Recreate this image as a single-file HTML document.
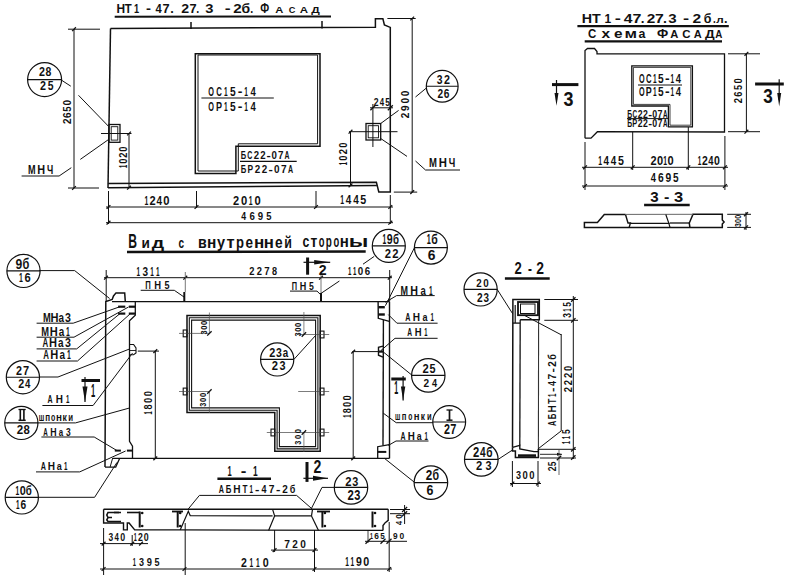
<!DOCTYPE html>
<html><head><meta charset="utf-8"><style>
html,body{margin:0;padding:0;background:#fff;}
svg{display:block;font-family:"Liberation Sans",sans-serif;}
</style></head><body>
<svg width="803" height="580" viewBox="0 0 803 580">
<rect width="803" height="580" fill="#fff"/>
<g font-weight="bold" fill="#111" stroke="#111" stroke-width="0" transform="translate(0,12.7)"><g transform="translate(117.2,0)"><text x="-0.80" y="0.00" font-size="13.08" textLength="8.60" lengthAdjust="spacingAndGlyphs">Н</text></g><g transform="translate(125,0)"><text x="-0.13" y="0.00" font-size="13.08" textLength="6.95" lengthAdjust="spacingAndGlyphs">Т</text></g><g transform="translate(134.7,0)"><text x="-0.58" y="0.00" font-size="13.08" textLength="5.14" lengthAdjust="spacingAndGlyphs">1</text></g><g transform="translate(146.6,0)"><text x="-0.58" y="0.00" font-size="13.08" textLength="4.98" lengthAdjust="spacingAndGlyphs">-</text></g><g transform="translate(155.6,0)"><text x="-0.17" y="0.00" font-size="13.08" textLength="6.23" lengthAdjust="spacingAndGlyphs">4</text></g><g transform="translate(163,0)"><text x="-0.55" y="0.00" font-size="13.08" textLength="7.11" lengthAdjust="spacingAndGlyphs">7</text></g><g transform="translate(171,0)"><text x="-0.87" y="0.00" font-size="13.08" textLength="3.54" lengthAdjust="spacingAndGlyphs">.</text></g><g transform="translate(181.7,0)"><text x="-0.49" y="0.00" font-size="13.08" textLength="7.86" lengthAdjust="spacingAndGlyphs">2</text></g><g transform="translate(190,0)"><text x="-0.55" y="0.00" font-size="13.08" textLength="7.11" lengthAdjust="spacingAndGlyphs">7</text></g><g transform="translate(197,0)"><text x="-0.72" y="0.00" font-size="13.08" textLength="2.95" lengthAdjust="spacingAndGlyphs">.</text></g><g transform="translate(205.7,0)"><text x="-0.34" y="0.00" font-size="13.08" textLength="8.17" lengthAdjust="spacingAndGlyphs">3</text></g><g transform="translate(225.5,0)"><text x="-0.69" y="0.00" font-size="13.08" textLength="5.90" lengthAdjust="spacingAndGlyphs">-</text></g><g transform="translate(233.7,0)"><text x="-0.53" y="0.00" font-size="13.08" textLength="8.43" lengthAdjust="spacingAndGlyphs">2</text></g><g transform="translate(242,0)"><text x="-0.64" y="0.00" font-size="13.08" textLength="8.59" lengthAdjust="spacingAndGlyphs">б</text></g><g transform="translate(251,0)"><text x="-0.72" y="0.00" font-size="13.08" textLength="2.95" lengthAdjust="spacingAndGlyphs">.</text></g></g>
<g font-weight="bold" fill="#111" stroke="#111" stroke-width="0" transform="translate(0,12.7)"><g transform="translate(260.6,0)"><text x="-0.36" y="0.00" font-size="13.81" textLength="8.93" lengthAdjust="spacingAndGlyphs">Ф</text></g></g>
<g font-weight="bold" fill="#111" stroke="#111" stroke-width="0" transform="translate(0,12.7)"><g transform="translate(275.5,0)"><text x="-0.28" y="0.00" font-size="8.14" textLength="8.07" lengthAdjust="spacingAndGlyphs">А</text></g><g transform="translate(289,0)"><text x="-0.38" y="0.00" font-size="8.14" textLength="6.63" lengthAdjust="spacingAndGlyphs">С</text></g><g transform="translate(300,0)"><text x="-0.29" y="0.00" font-size="8.14" textLength="8.29" lengthAdjust="spacingAndGlyphs">А</text></g><g transform="translate(311.4,0)"><text x="-0.11" y="0.00" font-size="8.14" textLength="8.52" lengthAdjust="spacingAndGlyphs">Д</text></g></g>
<line x1="114.7" y1="16.8" x2="331" y2="16.5" stroke="#111" stroke-width="2"/>
<polyline points="110.5,28.6 375.4,27.2 375.4,18.8 382.9,18.8 384.4,24.9 390.3,27.4 390.3,191.9 378.8,191.9 376.4,182.2 108.2,183.4" fill="none" stroke="#111" stroke-width="1.5" stroke-linejoin="miter"/>
<line x1="110.5" y1="28.6" x2="108" y2="188" stroke="#111" stroke-width="1.5"/>
<line x1="108" y1="187.7" x2="376.9" y2="185.4" stroke="#111" stroke-width="1.5"/>
<line x1="191" y1="22" x2="191" y2="29" stroke="#111" stroke-width="1.5"/>
<line x1="322" y1="21" x2="322" y2="28.5" stroke="#111" stroke-width="1.5"/>
<polygon points="195.3,53.8 320,53.8 320,146.2 235.9,146.2 235.9,173.4 195.3,173.4" fill="none" stroke="#111" stroke-width="1.5" stroke-linejoin="miter"/>
<polygon points="198,55 317.6,55 317.6,143.8 238.3,143.8 238.3,171 198,171" fill="none" stroke="#111" stroke-width="1.0" stroke-linejoin="miter"/>
<g font-weight="bold" fill="#111" stroke="#111" stroke-width="0" transform="translate(208.6,95.5)"><text x="-0.30" y="0.00" font-size="12.35" textLength="5.71" lengthAdjust="spacingAndGlyphs">О</text><text x="7.62" y="0.00" font-size="12.35" textLength="5.63" lengthAdjust="spacingAndGlyphs">С</text><text x="15.46" y="0.00" font-size="12.35" textLength="3.66" lengthAdjust="spacingAndGlyphs">1</text><text x="21.45" y="0.00" font-size="12.35" textLength="5.70" lengthAdjust="spacingAndGlyphs">5</text><text x="29.15" y="0.00" font-size="12.35" textLength="4.68" lengthAdjust="spacingAndGlyphs">-</text><text x="35.69" y="0.00" font-size="12.35" textLength="3.66" lengthAdjust="spacingAndGlyphs">1</text><text x="41.86" y="0.00" font-size="12.35" textLength="5.30" lengthAdjust="spacingAndGlyphs">4</text></g>
<line x1="201.4" y1="98" x2="273.8" y2="98" stroke="#111" stroke-width="1.1"/>
<g font-weight="bold" fill="#111" stroke="#111" stroke-width="0" transform="translate(208.6,110.5)"><text x="-0.30" y="0.00" font-size="12.35" textLength="5.71" lengthAdjust="spacingAndGlyphs">О</text><text x="7.33" y="0.00" font-size="12.35" textLength="6.01" lengthAdjust="spacingAndGlyphs">Р</text><text x="15.46" y="0.00" font-size="12.35" textLength="3.66" lengthAdjust="spacingAndGlyphs">1</text><text x="21.45" y="0.00" font-size="12.35" textLength="5.70" lengthAdjust="spacingAndGlyphs">5</text><text x="29.15" y="0.00" font-size="12.35" textLength="4.68" lengthAdjust="spacingAndGlyphs">-</text><text x="35.69" y="0.00" font-size="12.35" textLength="3.66" lengthAdjust="spacingAndGlyphs">1</text><text x="41.86" y="0.00" font-size="12.35" textLength="5.30" lengthAdjust="spacingAndGlyphs">4</text></g>
<g font-weight="bold" fill="#111" stroke="#111" stroke-width="0" transform="translate(241.2,158.7)"><text x="-0.50" y="0.00" font-size="11.19" textLength="5.39" lengthAdjust="spacingAndGlyphs">Б</text><text x="6.13" y="0.00" font-size="11.19" textLength="5.10" lengthAdjust="spacingAndGlyphs">С</text><text x="12.51" y="0.00" font-size="11.19" textLength="5.34" lengthAdjust="spacingAndGlyphs">2</text><text x="18.94" y="0.00" font-size="11.19" textLength="5.34" lengthAdjust="spacingAndGlyphs">2</text><text x="25.20" y="0.00" font-size="11.19" textLength="4.24" lengthAdjust="spacingAndGlyphs">-</text><text x="30.35" y="0.00" font-size="11.19" textLength="5.40" lengthAdjust="spacingAndGlyphs">0</text><text x="36.73" y="0.00" font-size="11.19" textLength="5.48" lengthAdjust="spacingAndGlyphs">7</text><text x="43.41" y="0.00" font-size="11.19" textLength="4.97" lengthAdjust="spacingAndGlyphs">А</text></g>
<line x1="240" y1="161.4" x2="296.7" y2="161.4" stroke="#111" stroke-width="1.1"/>
<g font-weight="bold" fill="#111" stroke="#111" stroke-width="0" transform="translate(241.2,173.4)"><text x="-0.51" y="0.00" font-size="11.48" textLength="5.53" lengthAdjust="spacingAndGlyphs">Б</text><text x="6.37" y="0.00" font-size="11.48" textLength="5.59" lengthAdjust="spacingAndGlyphs">Р</text><text x="13.51" y="0.00" font-size="11.48" textLength="5.48" lengthAdjust="spacingAndGlyphs">2</text><text x="20.44" y="0.00" font-size="11.48" textLength="5.48" lengthAdjust="spacingAndGlyphs">2</text><text x="27.19" y="0.00" font-size="11.48" textLength="4.35" lengthAdjust="spacingAndGlyphs">-</text><text x="32.81" y="0.00" font-size="11.48" textLength="5.54" lengthAdjust="spacingAndGlyphs">0</text><text x="39.70" y="0.00" font-size="11.48" textLength="5.62" lengthAdjust="spacingAndGlyphs">7</text><text x="46.88" y="0.00" font-size="11.48" textLength="5.10" lengthAdjust="spacingAndGlyphs">А</text></g>
<rect x="109" y="124.5" width="11" height="17.80000000000001" fill="none" stroke="#111" stroke-width="1.3"/>
<rect x="111.2" y="126.7" width="6.599999999999994" height="13.399999999999991" fill="none" stroke="#111" stroke-width="0.9"/>
<line x1="101" y1="133.5" x2="131.5" y2="133.5" stroke="#111" stroke-width="1.0"/>
<line x1="129" y1="133.5" x2="129" y2="187.7" stroke="#111" stroke-width="1.0"/>
<line x1="127.1" y1="135.4" x2="130.9" y2="131.6" stroke="#111" stroke-width="1.25"/>
<line x1="127.1" y1="189.6" x2="130.9" y2="185.79999999999998" stroke="#111" stroke-width="1.25"/>
<g font-weight="bold" fill="#111" stroke="#111" stroke-width="0" transform="translate(126.8,167.7) rotate(-90)"><text x="-0.37" y="0.00" font-size="10.90" textLength="3.23" lengthAdjust="spacingAndGlyphs">1</text><text x="3.83" y="0.00" font-size="10.90" textLength="5.26" lengthAdjust="spacingAndGlyphs">0</text><text x="9.88" y="0.00" font-size="10.90" textLength="5.20" lengthAdjust="spacingAndGlyphs">2</text><text x="15.83" y="0.00" font-size="10.90" textLength="5.26" lengthAdjust="spacingAndGlyphs">0</text></g>
<line x1="74" y1="29" x2="74" y2="188" stroke="#111" stroke-width="1.0"/>
<line x1="68" y1="29.2" x2="100" y2="29.2" stroke="#111" stroke-width="1.0"/>
<line x1="68" y1="188" x2="99" y2="188" stroke="#111" stroke-width="1.0"/>
<line x1="72.1" y1="31.099999999999998" x2="75.9" y2="27.3" stroke="#111" stroke-width="1.25"/>
<line x1="72.1" y1="189.9" x2="75.9" y2="186.1" stroke="#111" stroke-width="1.25"/>
<g font-weight="bold" fill="#111" stroke="#111" stroke-width="0" transform="translate(71.4,123.7) rotate(-90)"><text x="-0.35" y="0.00" font-size="11.63" textLength="5.54" lengthAdjust="spacingAndGlyphs">2</text><text x="5.80" y="0.00" font-size="11.63" textLength="5.52" lengthAdjust="spacingAndGlyphs">6</text><text x="12.04" y="0.00" font-size="11.63" textLength="5.37" lengthAdjust="spacingAndGlyphs">5</text><text x="18.10" y="0.00" font-size="11.63" textLength="5.61" lengthAdjust="spacingAndGlyphs">0</text></g>
<circle cx="44.6" cy="79.6" r="17" fill="none" stroke="#111" stroke-width="1.2"/>
<line x1="27.6" y1="79.6" x2="61.6" y2="79.6" stroke="#111" stroke-width="1.1"/>
<g font-weight="bold" fill="#111" stroke="#111" stroke-width="0" transform="translate(39.4,76.1)"><text x="-0.37" y="0.00" font-size="12.50" textLength="5.96" lengthAdjust="spacingAndGlyphs">2</text><text x="6.11" y="0.00" font-size="12.50" textLength="5.81" lengthAdjust="spacingAndGlyphs">8</text></g>
<g font-weight="bold" fill="#111" stroke="#111" stroke-width="0" transform="translate(40.3,90.3)"><text x="-0.37" y="0.00" font-size="12.50" textLength="5.96" lengthAdjust="spacingAndGlyphs">2</text><text x="7.42" y="0.00" font-size="12.50" textLength="5.77" lengthAdjust="spacingAndGlyphs">5</text></g>
<line x1="60" y1="79.2" x2="70.8" y2="86.2" stroke="#111" stroke-width="1.0"/>
<line x1="78.5" y1="95.3" x2="108.5" y2="126.3" stroke="#111" stroke-width="1.0"/>
<line x1="109" y1="139.2" x2="80.3" y2="159.4" stroke="#111" stroke-width="1.0"/>
<line x1="71.3" y1="167.7" x2="59.1" y2="176" stroke="#111" stroke-width="1.0"/>
<line x1="21.6" y1="176" x2="59.1" y2="176" stroke="#111" stroke-width="1.0"/>
<g font-weight="bold" fill="#111" stroke="#111" stroke-width="0" transform="translate(28.6,173.6)"><text x="-0.61" y="0.00" font-size="12.50" textLength="7.58" lengthAdjust="spacingAndGlyphs">М</text><text x="8.75" y="0.00" font-size="12.50" textLength="7.82" lengthAdjust="spacingAndGlyphs">Н</text><text x="18.46" y="0.00" font-size="12.50" textLength="6.23" lengthAdjust="spacingAndGlyphs">Ч</text></g>
<rect x="366" y="123.5" width="14.699999999999989" height="16.5" fill="none" stroke="#111" stroke-width="1.3"/>
<rect x="368.2" y="125.7" width="10.300000000000011" height="12.100000000000009" fill="none" stroke="#111" stroke-width="0.9"/>
<line x1="349" y1="131.7" x2="397.5" y2="131.7" stroke="#111" stroke-width="1.0"/>
<line x1="372.9" y1="104" x2="372.9" y2="147" stroke="#111" stroke-width="1.0"/>
<line x1="390.3" y1="104" x2="390.3" y2="110" stroke="#111" stroke-width="1.0"/>
<line x1="370" y1="107.8" x2="393" y2="107.8" stroke="#111" stroke-width="1.0"/>
<line x1="370.4" y1="110.3" x2="375.4" y2="105.3" stroke="#111" stroke-width="1.25"/>
<line x1="387.8" y1="110.3" x2="392.8" y2="105.3" stroke="#111" stroke-width="1.25"/>
<g font-weight="bold" fill="#111" stroke="#111" stroke-width="0" transform="translate(374,106)"><text x="-0.30" y="0.00" font-size="10.17" textLength="4.85" lengthAdjust="spacingAndGlyphs">2</text><text x="5.63" y="0.00" font-size="10.17" textLength="4.36" lengthAdjust="spacingAndGlyphs">4</text><text x="11.24" y="0.00" font-size="10.17" textLength="4.69" lengthAdjust="spacingAndGlyphs">5</text></g>
<line x1="350.5" y1="131.7" x2="350.5" y2="185.4" stroke="#111" stroke-width="1.0"/>
<line x1="348.6" y1="133.6" x2="352.4" y2="129.79999999999998" stroke="#111" stroke-width="1.25"/>
<line x1="348.6" y1="187.3" x2="352.4" y2="183.5" stroke="#111" stroke-width="1.25"/>
<g font-weight="bold" fill="#111" stroke="#111" stroke-width="0" transform="translate(347.4,165) rotate(-90)"><text x="-0.37" y="0.00" font-size="10.90" textLength="3.23" lengthAdjust="spacingAndGlyphs">1</text><text x="4.26" y="0.00" font-size="10.90" textLength="5.26" lengthAdjust="spacingAndGlyphs">0</text><text x="10.74" y="0.00" font-size="10.90" textLength="5.20" lengthAdjust="spacingAndGlyphs">2</text><text x="17.13" y="0.00" font-size="10.90" textLength="5.26" lengthAdjust="spacingAndGlyphs">0</text></g>
<line x1="412.2" y1="18.5" x2="412.2" y2="192.1" stroke="#111" stroke-width="1.0"/>
<line x1="387.4" y1="18.5" x2="415.7" y2="18.5" stroke="#111" stroke-width="1.0"/>
<line x1="393.8" y1="192.1" x2="417.2" y2="192.1" stroke="#111" stroke-width="1.0"/>
<line x1="410.3" y1="20.4" x2="414.09999999999997" y2="16.6" stroke="#111" stroke-width="1.25"/>
<line x1="410.3" y1="194.0" x2="414.09999999999997" y2="190.2" stroke="#111" stroke-width="1.25"/>
<g font-weight="bold" fill="#111" stroke="#111" stroke-width="0" transform="translate(409.0,118) rotate(-90)"><text x="-0.35" y="0.00" font-size="11.63" textLength="5.54" lengthAdjust="spacingAndGlyphs">2</text><text x="7.06" y="0.00" font-size="11.63" textLength="5.51" lengthAdjust="spacingAndGlyphs">9</text><text x="14.40" y="0.00" font-size="11.63" textLength="5.61" lengthAdjust="spacingAndGlyphs">0</text><text x="21.80" y="0.00" font-size="11.63" textLength="5.61" lengthAdjust="spacingAndGlyphs">0</text></g>
<circle cx="442.2" cy="86.3" r="15.9" fill="none" stroke="#111" stroke-width="1.2"/>
<line x1="426.3" y1="86.3" x2="458.09999999999997" y2="86.3" stroke="#111" stroke-width="1.1"/>
<g font-weight="bold" fill="#111" stroke="#111" stroke-width="0" transform="translate(437,83.7)"><text x="-0.24" y="0.00" font-size="12.50" textLength="5.77" lengthAdjust="spacingAndGlyphs">3</text><text x="6.97" y="0.00" font-size="12.50" textLength="5.96" lengthAdjust="spacingAndGlyphs">2</text></g>
<g font-weight="bold" fill="#111" stroke="#111" stroke-width="0" transform="translate(437.8,97.5)"><text x="-0.35" y="0.00" font-size="11.92" textLength="5.68" lengthAdjust="spacingAndGlyphs">2</text><text x="5.91" y="0.00" font-size="11.92" textLength="5.66" lengthAdjust="spacingAndGlyphs">6</text></g>
<line x1="426.4" y1="88" x2="415.5" y2="97" stroke="#111" stroke-width="1.0"/>
<line x1="398.6" y1="110.4" x2="380.7" y2="123.5" stroke="#111" stroke-width="1.0"/>
<line x1="380.7" y1="138.5" x2="407" y2="156.4" stroke="#111" stroke-width="1.0"/>
<line x1="415.5" y1="161" x2="425.5" y2="170" stroke="#111" stroke-width="1.0"/>
<line x1="425.5" y1="170" x2="460" y2="170" stroke="#111" stroke-width="1.0"/>
<g font-weight="bold" fill="#111" stroke="#111" stroke-width="0" transform="translate(429.6,166.5)"><text x="-0.64" y="0.00" font-size="13.08" textLength="7.93" lengthAdjust="spacingAndGlyphs">М</text><text x="9.09" y="0.00" font-size="13.08" textLength="8.18" lengthAdjust="spacingAndGlyphs">Н</text><text x="19.20" y="0.00" font-size="13.08" textLength="6.52" lengthAdjust="spacingAndGlyphs">Ч</text></g>
<line x1="108.5" y1="191" x2="108.5" y2="224" stroke="#111" stroke-width="1.0"/>
<line x1="196.5" y1="191" x2="196.5" y2="208" stroke="#111" stroke-width="1.0"/>
<line x1="316" y1="191" x2="316" y2="208" stroke="#111" stroke-width="1.0"/>
<line x1="390.3" y1="195" x2="390.3" y2="224" stroke="#111" stroke-width="1.0"/>
<line x1="106" y1="207" x2="393" y2="207" stroke="#111" stroke-width="1.0"/>
<line x1="106" y1="222.7" x2="393" y2="222.7" stroke="#111" stroke-width="1.0"/>
<line x1="106.6" y1="208.9" x2="110.4" y2="205.1" stroke="#111" stroke-width="1.25"/>
<line x1="194.6" y1="208.9" x2="198.4" y2="205.1" stroke="#111" stroke-width="1.25"/>
<line x1="314.1" y1="208.9" x2="317.9" y2="205.1" stroke="#111" stroke-width="1.25"/>
<line x1="388.40000000000003" y1="208.9" x2="392.2" y2="205.1" stroke="#111" stroke-width="1.25"/>
<line x1="106.6" y1="224.6" x2="110.4" y2="220.79999999999998" stroke="#111" stroke-width="1.25"/>
<line x1="388.40000000000003" y1="224.6" x2="392.2" y2="220.79999999999998" stroke="#111" stroke-width="1.25"/>
<g font-weight="bold" fill="#111" stroke="#111" stroke-width="0" transform="translate(145,204.7)"><text x="-0.43" y="0.00" font-size="12.94" textLength="3.83" lengthAdjust="spacingAndGlyphs">1</text><text x="4.41" y="0.00" font-size="12.94" textLength="6.17" lengthAdjust="spacingAndGlyphs">2</text><text x="11.58" y="0.00" font-size="12.94" textLength="5.54" lengthAdjust="spacingAndGlyphs">4</text><text x="18.22" y="0.00" font-size="12.94" textLength="6.24" lengthAdjust="spacingAndGlyphs">0</text></g>
<g font-weight="bold" fill="#111" stroke="#111" stroke-width="0" transform="translate(233.5,204.7)"><text x="-0.38" y="0.00" font-size="12.94" textLength="6.17" lengthAdjust="spacingAndGlyphs">2</text><text x="7.45" y="0.00" font-size="12.94" textLength="6.24" lengthAdjust="spacingAndGlyphs">0</text><text x="15.36" y="0.00" font-size="12.94" textLength="3.83" lengthAdjust="spacingAndGlyphs">1</text><text x="21.12" y="0.00" font-size="12.94" textLength="6.24" lengthAdjust="spacingAndGlyphs">0</text></g>
<g font-weight="bold" fill="#111" stroke="#111" stroke-width="0" transform="translate(340.8,203.8)"><text x="-0.43" y="0.00" font-size="12.94" textLength="3.83" lengthAdjust="spacingAndGlyphs">1</text><text x="5.05" y="0.00" font-size="12.94" textLength="5.54" lengthAdjust="spacingAndGlyphs">4</text><text x="12.38" y="0.00" font-size="12.94" textLength="5.54" lengthAdjust="spacingAndGlyphs">4</text><text x="19.53" y="0.00" font-size="12.94" textLength="5.97" lengthAdjust="spacingAndGlyphs">5</text></g>
<g font-weight="bold" fill="#111" stroke="#111" stroke-width="0" transform="translate(241.3,220.4)"><text x="-0.13" y="0.00" font-size="11.34" textLength="4.86" lengthAdjust="spacingAndGlyphs">4</text><text x="8.09" y="0.00" font-size="11.34" textLength="5.38" lengthAdjust="spacingAndGlyphs">6</text><text x="16.55" y="0.00" font-size="11.34" textLength="5.37" lengthAdjust="spacingAndGlyphs">9</text><text x="25.03" y="0.00" font-size="11.34" textLength="5.23" lengthAdjust="spacingAndGlyphs">5</text></g>
<g font-weight="bold" fill="#111" stroke="#111" stroke-width="0" transform="translate(0,23)"><g transform="translate(582.8,0)"><text x="-0.96" y="0.00" font-size="12.35" textLength="10.32" lengthAdjust="spacingAndGlyphs">Н</text></g><g transform="translate(592.1,0)"><text x="-0.16" y="0.00" font-size="12.35" textLength="8.71" lengthAdjust="spacingAndGlyphs">Т</text></g><g transform="translate(605.2,0)"><text x="-0.76" y="0.00" font-size="12.35" textLength="6.69" lengthAdjust="spacingAndGlyphs">1</text></g><g transform="translate(615.5,0)"><text x="-0.72" y="0.00" font-size="12.35" textLength="6.16" lengthAdjust="spacingAndGlyphs">-</text></g><g transform="translate(623.9,0)"><text x="-0.24" y="0.00" font-size="12.35" textLength="8.72" lengthAdjust="spacingAndGlyphs">4</text></g><g transform="translate(633.2,0)"><text x="-0.69" y="0.00" font-size="12.35" textLength="8.89" lengthAdjust="spacingAndGlyphs">7</text></g><g transform="translate(641.6,0)"><text x="-0.91" y="0.00" font-size="12.35" textLength="3.74" lengthAdjust="spacingAndGlyphs">.</text></g><g transform="translate(647.3,0)"><text x="-0.53" y="0.00" font-size="12.35" textLength="8.55" lengthAdjust="spacingAndGlyphs">2</text></g><g transform="translate(655.7,0)"><text x="-0.68" y="0.00" font-size="12.35" textLength="8.77" lengthAdjust="spacingAndGlyphs">7</text></g><g transform="translate(664,0)"><text x="-0.96" y="0.00" font-size="12.35" textLength="3.94" lengthAdjust="spacingAndGlyphs">.</text></g><g transform="translate(668.7,0)"><text x="-0.35" y="0.00" font-size="12.35" textLength="8.39" lengthAdjust="spacingAndGlyphs">3</text></g><g transform="translate(683.7,0)"><text x="-0.72" y="0.00" font-size="12.35" textLength="6.16" lengthAdjust="spacingAndGlyphs">-</text></g><g transform="translate(693,0)"><text x="-0.54" y="0.00" font-size="12.35" textLength="8.66" lengthAdjust="spacingAndGlyphs">2</text></g><g transform="translate(704.2,0)"><text x="-0.57" y="0.00" font-size="12.35" textLength="7.66" lengthAdjust="spacingAndGlyphs">б</text></g><g transform="translate(713.6,0)"><text x="-0.67" y="0.00" font-size="12.35" textLength="2.76" lengthAdjust="spacingAndGlyphs">.</text></g></g>
<g font-weight="bold" fill="#111" stroke="#111" stroke-width="0" transform="translate(0,23)"><g transform="translate(716.4,0)"><text x="-0.12" y="0.00" font-size="8.90" textLength="7.44" lengthAdjust="spacingAndGlyphs">л</text></g></g>
<g font-weight="bold" fill="#111" stroke="#111" stroke-width="0" transform="translate(0,23)"><g transform="translate(724.8,0)"><text x="-0.87" y="0.00" font-size="12.35" textLength="3.54" lengthAdjust="spacingAndGlyphs">.</text></g></g>
<line x1="577.4" y1="26.2" x2="728.8" y2="26.2" stroke="#111" stroke-width="2.2"/>
<g font-weight="bold" fill="#111" stroke="#111" stroke-width="0" transform="translate(0,37.9)"><g transform="translate(588.4,0)"><text x="-0.47" y="0.00" font-size="12.21" textLength="8.28" lengthAdjust="spacingAndGlyphs">С</text></g></g>
<g font-weight="bold" fill="#111" stroke="#111" stroke-width="0" transform="translate(0,37.9)"><g transform="translate(601.5,0)"><text x="-0.11" y="0.00" font-size="12.31" textLength="8.62" lengthAdjust="spacingAndGlyphs">х</text></g><g transform="translate(614.6,0)"><text x="-0.60" y="0.00" font-size="12.31" textLength="8.52" lengthAdjust="spacingAndGlyphs">е</text></g><g transform="translate(625.8,0)"><text x="-1.19" y="0.00" font-size="12.31" textLength="12.57" lengthAdjust="spacingAndGlyphs">м</text></g><g transform="translate(638.8,0)"><text x="-0.36" y="0.00" font-size="12.31" textLength="6.88" lengthAdjust="spacingAndGlyphs">а</text></g></g>
<g font-weight="bold" fill="#111" stroke="#111" stroke-width="0" transform="translate(0,37.9)"><g transform="translate(657.5,0)"><text x="-0.46" y="0.00" font-size="12.21" textLength="11.21" lengthAdjust="spacingAndGlyphs">Ф</text></g></g>
<g font-weight="bold" fill="#111" stroke="#111" stroke-width="0" transform="translate(0,37.9)"><g transform="translate(670.6,0)"><text x="-0.28" y="0.00" font-size="10.17" textLength="8.07" lengthAdjust="spacingAndGlyphs">А</text></g><g transform="translate(682.7,0)"><text x="-0.47" y="0.00" font-size="10.17" textLength="8.28" lengthAdjust="spacingAndGlyphs">С</text></g><g transform="translate(694,0)"><text x="-0.27" y="0.00" font-size="10.17" textLength="7.97" lengthAdjust="spacingAndGlyphs">А</text></g><g transform="translate(705.2,0)"><text x="-0.12" y="0.00" font-size="10.17" textLength="9.66" lengthAdjust="spacingAndGlyphs">Д</text></g><g transform="translate(715.4,0)"><text x="-0.24" y="0.00" font-size="10.17" textLength="7.10" lengthAdjust="spacingAndGlyphs">А</text></g></g>
<line x1="584.7" y1="41.4" x2="722" y2="41.4" stroke="#111" stroke-width="2.2"/>
<polyline points="585,138.2 585,50.5 587.5,48.5 594.5,48.5 597,51.5 597,53.8 724.5,53.8 724.5,132 597.4,131.7 591,138.2 585,138.2" fill="none" stroke="#111" stroke-width="1.3" stroke-linejoin="miter"/>
<polygon points="631.8,65.8 692.4,65.8 692.4,126.8 668.4,126.8 668.4,106 631.8,106" fill="none" stroke="#111" stroke-width="1.3" stroke-linejoin="miter"/>
<polygon points="633.4,67.4 690.8,67.4 690.8,125.2 670,125.2 670,104.4 633.4,104.4" fill="none" stroke="#111" stroke-width="0.8" stroke-linejoin="miter"/>
<g font-weight="bold" fill="#111" stroke="#111" stroke-width="0" transform="translate(639.4,83.4)"><text x="-0.30" y="0.00" font-size="12.21" textLength="5.64" lengthAdjust="spacingAndGlyphs">О</text><text x="6.70" y="0.00" font-size="12.21" textLength="5.57" lengthAdjust="spacingAndGlyphs">С</text><text x="13.63" y="0.00" font-size="12.21" textLength="3.61" lengthAdjust="spacingAndGlyphs">1</text><text x="18.72" y="0.00" font-size="12.21" textLength="5.63" lengthAdjust="spacingAndGlyphs">5</text><text x="25.51" y="0.00" font-size="12.21" textLength="4.63" lengthAdjust="spacingAndGlyphs">-</text><text x="31.15" y="0.00" font-size="12.21" textLength="3.61" lengthAdjust="spacingAndGlyphs">1</text><text x="36.42" y="0.00" font-size="12.21" textLength="5.23" lengthAdjust="spacingAndGlyphs">4</text></g>
<line x1="638" y1="85" x2="682" y2="85" stroke="#111" stroke-width="1"/>
<g font-weight="bold" fill="#111" stroke="#111" stroke-width="0" transform="translate(639.4,95.5)"><text x="-0.30" y="0.00" font-size="12.21" textLength="5.64" lengthAdjust="spacingAndGlyphs">О</text><text x="6.42" y="0.00" font-size="12.21" textLength="5.94" lengthAdjust="spacingAndGlyphs">Р</text><text x="13.63" y="0.00" font-size="12.21" textLength="3.61" lengthAdjust="spacingAndGlyphs">1</text><text x="18.72" y="0.00" font-size="12.21" textLength="5.63" lengthAdjust="spacingAndGlyphs">5</text><text x="25.51" y="0.00" font-size="12.21" textLength="4.63" lengthAdjust="spacingAndGlyphs">-</text><text x="31.15" y="0.00" font-size="12.21" textLength="3.61" lengthAdjust="spacingAndGlyphs">1</text><text x="36.42" y="0.00" font-size="12.21" textLength="5.23" lengthAdjust="spacingAndGlyphs">4</text></g>
<g font-weight="bold" fill="#111" stroke="#111" stroke-width="0" transform="translate(627.6,118)"><text x="-0.46" y="0.00" font-size="10.17" textLength="4.90" lengthAdjust="spacingAndGlyphs">Б</text><text x="5.00" y="0.00" font-size="10.17" textLength="4.64" lengthAdjust="spacingAndGlyphs">С</text><text x="10.23" y="0.00" font-size="10.17" textLength="4.85" lengthAdjust="spacingAndGlyphs">2</text><text x="15.49" y="0.00" font-size="10.17" textLength="4.85" lengthAdjust="spacingAndGlyphs">2</text><text x="20.61" y="0.00" font-size="10.17" textLength="3.86" lengthAdjust="spacingAndGlyphs">-</text><text x="24.72" y="0.00" font-size="10.17" textLength="4.91" lengthAdjust="spacingAndGlyphs">0</text><text x="29.95" y="0.00" font-size="10.17" textLength="4.98" lengthAdjust="spacingAndGlyphs">7</text><text x="35.44" y="0.00" font-size="10.17" textLength="4.52" lengthAdjust="spacingAndGlyphs">А</text></g>
<line x1="627" y1="118.6" x2="668" y2="118.6" stroke="#111" stroke-width="1"/>
<g font-weight="bold" fill="#111" stroke="#111" stroke-width="0" transform="translate(627.6,126.8)"><text x="-0.46" y="0.00" font-size="10.17" textLength="4.90" lengthAdjust="spacingAndGlyphs">Б</text><text x="4.77" y="0.00" font-size="10.17" textLength="4.95" lengthAdjust="spacingAndGlyphs">Р</text><text x="10.23" y="0.00" font-size="10.17" textLength="4.85" lengthAdjust="spacingAndGlyphs">2</text><text x="15.49" y="0.00" font-size="10.17" textLength="4.85" lengthAdjust="spacingAndGlyphs">2</text><text x="20.61" y="0.00" font-size="10.17" textLength="3.86" lengthAdjust="spacingAndGlyphs">-</text><text x="24.72" y="0.00" font-size="10.17" textLength="4.91" lengthAdjust="spacingAndGlyphs">0</text><text x="29.95" y="0.00" font-size="10.17" textLength="4.98" lengthAdjust="spacingAndGlyphs">7</text><text x="35.44" y="0.00" font-size="10.17" textLength="4.52" lengthAdjust="spacingAndGlyphs">А</text></g>
<line x1="746.4" y1="53.8" x2="746.4" y2="131.7" stroke="#111" stroke-width="1.0"/>
<line x1="728" y1="53.8" x2="760" y2="53.8" stroke="#111" stroke-width="1.0"/>
<line x1="728" y1="131.7" x2="760" y2="131.7" stroke="#111" stroke-width="1.0"/>
<line x1="744.5" y1="55.699999999999996" x2="748.3" y2="51.9" stroke="#111" stroke-width="1.25"/>
<line x1="744.5" y1="133.6" x2="748.3" y2="129.79999999999998" stroke="#111" stroke-width="1.25"/>
<g font-weight="bold" fill="#111" stroke="#111" stroke-width="0" transform="translate(741.8,103) rotate(-90)"><text x="-0.32" y="0.00" font-size="10.90" textLength="5.20" lengthAdjust="spacingAndGlyphs">2</text><text x="6.29" y="0.00" font-size="10.90" textLength="5.18" lengthAdjust="spacingAndGlyphs">6</text><text x="12.99" y="0.00" font-size="10.90" textLength="5.03" lengthAdjust="spacingAndGlyphs">5</text><text x="19.53" y="0.00" font-size="10.90" textLength="5.26" lengthAdjust="spacingAndGlyphs">0</text></g>
<line x1="552" y1="84.6" x2="578.4" y2="84.6" stroke="#111" stroke-width="3"/>
<line x1="556.5" y1="80" x2="556.5" y2="100" stroke="#111" stroke-width="1.2"/>
<polygon points="554.5,93 558.5,93 556.5,105.7" fill="#111"/>
<g font-weight="bold" fill="#111" stroke="#111" stroke-width="0" transform="translate(564,105.7)"><text x="-0.41" y="0.00" font-size="21.08" textLength="9.96" lengthAdjust="spacingAndGlyphs">3</text></g>
<line x1="755.1" y1="84" x2="783.8" y2="84" stroke="#111" stroke-width="3"/>
<line x1="779.2" y1="79.3" x2="779.2" y2="100" stroke="#111" stroke-width="1.2"/>
<polygon points="777.2,93 781.2,93 779.2,106.5" fill="#111"/>
<g font-weight="bold" fill="#111" stroke="#111" stroke-width="0" transform="translate(763.7,103.4)"><text x="-0.39" y="0.00" font-size="20.35" textLength="9.51" lengthAdjust="spacingAndGlyphs">3</text></g>
<line x1="585" y1="142" x2="585" y2="190" stroke="#111" stroke-width="1.0"/>
<line x1="632.7" y1="132" x2="632.7" y2="170" stroke="#111" stroke-width="1.0"/>
<line x1="688.3" y1="127" x2="688.3" y2="170" stroke="#111" stroke-width="1.0"/>
<line x1="724.9" y1="136" x2="724.9" y2="190" stroke="#111" stroke-width="1.0"/>
<line x1="582" y1="167.3" x2="728" y2="167.3" stroke="#111" stroke-width="1.0"/>
<line x1="582" y1="186" x2="728" y2="186" stroke="#111" stroke-width="1.0"/>
<line x1="583.1" y1="169.20000000000002" x2="586.9" y2="165.4" stroke="#111" stroke-width="1.25"/>
<line x1="630.8000000000001" y1="169.20000000000002" x2="634.6" y2="165.4" stroke="#111" stroke-width="1.25"/>
<line x1="686.4" y1="169.20000000000002" x2="690.1999999999999" y2="165.4" stroke="#111" stroke-width="1.25"/>
<line x1="723.0" y1="169.20000000000002" x2="726.8" y2="165.4" stroke="#111" stroke-width="1.25"/>
<line x1="583.1" y1="187.9" x2="586.9" y2="184.1" stroke="#111" stroke-width="1.25"/>
<line x1="723.0" y1="187.9" x2="726.8" y2="184.1" stroke="#111" stroke-width="1.25"/>
<g font-weight="bold" fill="#111" stroke="#111" stroke-width="0" transform="translate(598.6,164.8)"><text x="-0.43" y="0.00" font-size="12.79" textLength="3.79" lengthAdjust="spacingAndGlyphs">1</text><text x="4.98" y="0.00" font-size="12.79" textLength="5.48" lengthAdjust="spacingAndGlyphs">4</text><text x="12.23" y="0.00" font-size="12.79" textLength="5.48" lengthAdjust="spacingAndGlyphs">4</text><text x="19.29" y="0.00" font-size="12.79" textLength="5.90" lengthAdjust="spacingAndGlyphs">5</text></g>
<g font-weight="bold" fill="#111" stroke="#111" stroke-width="0" transform="translate(651,164.8)"><text x="-0.38" y="0.00" font-size="12.79" textLength="6.10" lengthAdjust="spacingAndGlyphs">2</text><text x="5.94" y="0.00" font-size="12.79" textLength="6.17" lengthAdjust="spacingAndGlyphs">0</text><text x="12.33" y="0.00" font-size="12.79" textLength="3.79" lengthAdjust="spacingAndGlyphs">1</text><text x="16.58" y="0.00" font-size="12.79" textLength="6.17" lengthAdjust="spacingAndGlyphs">0</text></g>
<g font-weight="bold" fill="#111" stroke="#111" stroke-width="0" transform="translate(698.2,164.8)"><text x="-0.41" y="0.00" font-size="12.79" textLength="3.59" lengthAdjust="spacingAndGlyphs">1</text><text x="3.70" y="0.00" font-size="12.79" textLength="5.79" lengthAdjust="spacingAndGlyphs">2</text><text x="9.98" y="0.00" font-size="12.79" textLength="5.20" lengthAdjust="spacingAndGlyphs">4</text><text x="15.77" y="0.00" font-size="12.79" textLength="5.86" lengthAdjust="spacingAndGlyphs">0</text></g>
<g font-weight="bold" fill="#111" stroke="#111" stroke-width="0" transform="translate(651,181.8)"><text x="-0.14" y="0.00" font-size="12.06" textLength="5.17" lengthAdjust="spacingAndGlyphs">4</text><text x="7.06" y="0.00" font-size="12.06" textLength="5.73" lengthAdjust="spacingAndGlyphs">6</text><text x="14.52" y="0.00" font-size="12.06" textLength="5.72" lengthAdjust="spacingAndGlyphs">9</text><text x="22.01" y="0.00" font-size="12.06" textLength="5.57" lengthAdjust="spacingAndGlyphs">5</text></g>
<g font-weight="bold" fill="#111" stroke="#111" stroke-width="0" transform="translate(0,202.2)"><g transform="translate(650.5,0)"><text x="-0.35" y="0.00" font-size="15.26" textLength="8.39" lengthAdjust="spacingAndGlyphs">3</text></g><g transform="translate(664.7,0)"><text x="-0.63" y="0.00" font-size="15.26" textLength="5.38" lengthAdjust="spacingAndGlyphs">-</text></g><g transform="translate(674.4,0)"><text x="-0.38" y="0.00" font-size="15.26" textLength="9.17" lengthAdjust="spacingAndGlyphs">3</text></g></g>
<line x1="644.1" y1="205" x2="689.7" y2="205" stroke="#111" stroke-width="2.5"/>
<polyline points="625.5,214.5 604.3,214.5 597.4,222.4 584.4,222.4 584.4,227.4 722.3,227.4 722.3,224 724.1,222 722.3,220 722.3,214.3 693,214.3 689.3,223 689.9,227.4" fill="none" stroke="#111" stroke-width="1.5" stroke-linejoin="miter"/>
<polyline points="625.5,214.5 628,223 630.4,223 629.2,227.4" fill="none" stroke="#111" stroke-width="1.4" stroke-linejoin="miter"/>
<line x1="625.5" y1="214.4" x2="693" y2="214.3" stroke="#666" stroke-width="1.0"/>
<line x1="630.4" y1="223.3" x2="669.7" y2="223.3" stroke="#111" stroke-width="1.3"/>
<line x1="670" y1="223" x2="689.3" y2="223" stroke="#111" stroke-width="1.3"/>
<polyline points="665.8,214.5 668.7,222.9 670,227.4" fill="none" stroke="#111" stroke-width="1.2" stroke-linejoin="miter"/>
<line x1="727.2" y1="214.3" x2="751" y2="214.3" stroke="#111" stroke-width="1.0"/>
<line x1="727.2" y1="227.4" x2="751" y2="227.4" stroke="#111" stroke-width="1.0"/>
<line x1="746" y1="212" x2="746" y2="230" stroke="#111" stroke-width="1.0"/>
<line x1="744" y1="216.3" x2="748" y2="212.3" stroke="#111" stroke-width="1.25"/>
<line x1="744" y1="229.4" x2="748" y2="225.4" stroke="#111" stroke-width="1.25"/>
<g font-weight="bold" fill="#111" stroke="#111" stroke-width="0" transform="translate(740.5,226.8) rotate(-90)"><text x="-0.16" y="0.00" font-size="9.45" textLength="3.82" lengthAdjust="spacingAndGlyphs">3</text><text x="3.91" y="0.00" font-size="9.45" textLength="3.99" lengthAdjust="spacingAndGlyphs">0</text><text x="8.10" y="0.00" font-size="9.45" textLength="3.99" lengthAdjust="spacingAndGlyphs">0</text></g>
<g font-weight="bold" fill="#111" stroke="#111" stroke-width="0" transform="translate(129,248.4)"><text x="-0.81" y="0.00" font-size="19.48" textLength="8.76" lengthAdjust="spacingAndGlyphs">В</text></g>
<g font-weight="bold" fill="#111" stroke="#111" stroke-width="0" transform="translate(0,248.4)"><g transform="translate(142.4,0)"><text x="-0.95" y="0.00" font-size="14.02" textLength="8.39" lengthAdjust="spacingAndGlyphs">и</text></g><g transform="translate(151.9,0)"><text x="-0.13" y="0.00" font-size="14.02" textLength="12.40" lengthAdjust="spacingAndGlyphs">д</text></g></g>
<g font-weight="bold" fill="#111" stroke="#111" stroke-width="0" transform="translate(0,248.4)"><g transform="translate(178.8,0)"><text x="-0.39" y="0.00" font-size="14.02" textLength="5.59" lengthAdjust="spacingAndGlyphs">с</text></g></g>
<g font-weight="bold" fill="#111" stroke="#111" stroke-width="0" transform="translate(0,247.7)"><g transform="translate(198.9,0)"><text x="-0.99" y="0.00" font-size="16.10" textLength="8.75" lengthAdjust="spacingAndGlyphs">в</text></g><g transform="translate(208.1,0)"><text x="-1.08" y="0.00" font-size="16.10" textLength="9.37" lengthAdjust="spacingAndGlyphs">н</text></g><g transform="translate(217.2,0)"><text x="-0.11" y="0.00" font-size="16.10" textLength="8.09" lengthAdjust="spacingAndGlyphs">у</text></g><g transform="translate(227,0)"><text x="-0.47" y="0.00" font-size="16.10" textLength="8.13" lengthAdjust="spacingAndGlyphs">т</text></g><g transform="translate(236.8,0)"><text x="-0.86" y="0.00" font-size="16.10" textLength="8.00" lengthAdjust="spacingAndGlyphs">р</text></g><g transform="translate(246,0)"><text x="-0.53" y="0.00" font-size="16.10" textLength="7.49" lengthAdjust="spacingAndGlyphs">е</text></g><g transform="translate(255.1,0)"><text x="-1.19" y="0.00" font-size="16.10" textLength="10.28" lengthAdjust="spacingAndGlyphs">н</text></g><g transform="translate(265,0)"><text x="-1.17" y="0.00" font-size="16.10" textLength="10.15" lengthAdjust="spacingAndGlyphs">н</text></g><g transform="translate(275.4,0)"><text x="-0.53" y="0.00" font-size="16.10" textLength="7.60" lengthAdjust="spacingAndGlyphs">е</text></g><g transform="translate(285.2,0)"><text x="-0.86" y="0.00" font-size="16.10" textLength="7.62" lengthAdjust="spacingAndGlyphs">й</text></g></g>
<g font-weight="bold" fill="#111" stroke="#111" stroke-width="0" transform="translate(0,247.4)"><g transform="translate(303,0)"><text x="-0.48" y="0.00" font-size="17.05" textLength="6.84" lengthAdjust="spacingAndGlyphs">с</text></g><g transform="translate(311,0)"><text x="-0.39" y="0.00" font-size="17.05" textLength="6.78" lengthAdjust="spacingAndGlyphs">т</text></g><g transform="translate(319,0)"><text x="-0.37" y="0.00" font-size="17.05" textLength="5.73" lengthAdjust="spacingAndGlyphs">о</text></g><g transform="translate(326.4,0)"><text x="-0.65" y="0.00" font-size="17.05" textLength="6.06" lengthAdjust="spacingAndGlyphs">р</text></g><g transform="translate(333.8,0)"><text x="-0.37" y="0.00" font-size="17.05" textLength="5.73" lengthAdjust="spacingAndGlyphs">о</text></g><g transform="translate(340.8,0)"><text x="-1.05" y="0.00" font-size="17.05" textLength="9.11" lengthAdjust="spacingAndGlyphs">н</text></g><g transform="translate(350.3,0)"><text x="-1.60" y="0.00" font-size="17.05" textLength="19.61" lengthAdjust="spacingAndGlyphs">ы</text></g></g>
<line x1="127" y1="251.9" x2="365.7" y2="251.6" stroke="#111" stroke-width="2.5"/>
<circle cx="388.8" cy="245.9" r="16.5" fill="none" stroke="#111" stroke-width="1.2"/>
<line x1="372.3" y1="245.9" x2="405.3" y2="245.9" stroke="#111" stroke-width="1.1"/>
<g font-weight="bold" fill="#111" stroke="#111" stroke-width="0" transform="translate(382.9,243.9)"><text x="-0.42" y="0.00" font-size="13.81" textLength="3.70" lengthAdjust="spacingAndGlyphs">1</text><text x="3.87" y="0.00" font-size="13.81" textLength="5.93" lengthAdjust="spacingAndGlyphs">9</text><text x="10.09" y="0.00" font-size="13.81" textLength="5.99" lengthAdjust="spacingAndGlyphs">б</text></g>
<g font-weight="bold" fill="#111" stroke="#111" stroke-width="0" transform="translate(385.2,257.9)"><text x="-0.39" y="0.00" font-size="13.08" textLength="6.24" lengthAdjust="spacingAndGlyphs">2</text><text x="7.01" y="0.00" font-size="13.08" textLength="6.24" lengthAdjust="spacingAndGlyphs">2</text></g>
<line x1="374.2" y1="256.4" x2="363" y2="264.2" stroke="#111" stroke-width="1.0"/>
<circle cx="430.9" cy="247.6" r="16.5" fill="none" stroke="#111" stroke-width="1.2"/>
<line x1="414.4" y1="247.6" x2="447.4" y2="247.6" stroke="#111" stroke-width="1.1"/>
<g font-weight="bold" fill="#111" stroke="#111" stroke-width="0" transform="translate(427.2,244.4)"><text x="-0.45" y="0.00" font-size="13.81" textLength="4.02" lengthAdjust="spacingAndGlyphs">1</text><text x="4.02" y="0.00" font-size="13.81" textLength="6.50" lengthAdjust="spacingAndGlyphs">б</text></g>
<g font-weight="bold" fill="#111" stroke="#111" stroke-width="0" transform="translate(428.3,260.1)"><text x="-0.51" y="0.00" font-size="14.53" textLength="7.71" lengthAdjust="spacingAndGlyphs">6</text></g>
<line x1="414.6" y1="247.4" x2="385.4" y2="305.7" stroke="#111" stroke-width="1.0"/>
<line x1="104" y1="277.7" x2="392" y2="277.7" stroke="#111" stroke-width="1.0"/>
<line x1="104.1" y1="279.59999999999997" x2="107.9" y2="275.8" stroke="#111" stroke-width="1.25"/>
<line x1="183.4" y1="279.59999999999997" x2="187.20000000000002" y2="275.8" stroke="#111" stroke-width="1.25"/>
<line x1="319.1" y1="279.59999999999997" x2="322.9" y2="275.8" stroke="#111" stroke-width="1.25"/>
<line x1="387.8" y1="279.59999999999997" x2="391.59999999999997" y2="275.8" stroke="#111" stroke-width="1.25"/>
<line x1="106.2" y1="270" x2="106.2" y2="301" stroke="#111" stroke-width="1.0"/>
<line x1="185.3" y1="272" x2="185.3" y2="292" stroke="#555" stroke-width="0.8"/>
<line x1="321" y1="272" x2="321" y2="293" stroke="#555" stroke-width="0.8"/>
<line x1="389.7" y1="270" x2="389.7" y2="301" stroke="#111" stroke-width="1.0"/>
<g font-weight="bold" fill="#111" stroke="#111" stroke-width="0" transform="translate(137,275.6)"><text x="-0.40" y="0.00" font-size="12.06" textLength="3.57" lengthAdjust="spacingAndGlyphs">1</text><text x="5.58" y="0.00" font-size="12.06" textLength="5.57" lengthAdjust="spacingAndGlyphs">3</text><text x="13.20" y="0.00" font-size="12.06" textLength="3.57" lengthAdjust="spacingAndGlyphs">1</text><text x="19.01" y="0.00" font-size="12.06" textLength="3.57" lengthAdjust="spacingAndGlyphs">1</text></g>
<g font-weight="bold" fill="#111" stroke="#111" stroke-width="0" transform="translate(249.5,274.8)"><text x="-0.32" y="0.00" font-size="10.90" textLength="5.20" lengthAdjust="spacingAndGlyphs">2</text><text x="7.31" y="0.00" font-size="10.90" textLength="5.20" lengthAdjust="spacingAndGlyphs">2</text><text x="14.85" y="0.00" font-size="10.90" textLength="5.33" lengthAdjust="spacingAndGlyphs">7</text><text x="22.61" y="0.00" font-size="10.90" textLength="5.07" lengthAdjust="spacingAndGlyphs">8</text></g>
<g font-weight="bold" fill="#111" stroke="#111" stroke-width="0" transform="translate(348.4,275.4)"><text x="-0.38" y="0.00" font-size="11.34" textLength="3.36" lengthAdjust="spacingAndGlyphs">1</text><text x="4.54" y="0.00" font-size="11.34" textLength="3.36" lengthAdjust="spacingAndGlyphs">1</text><text x="9.44" y="0.00" font-size="11.34" textLength="5.47" lengthAdjust="spacingAndGlyphs">0</text><text x="16.27" y="0.00" font-size="11.34" textLength="5.38" lengthAdjust="spacingAndGlyphs">6</text></g>
<g font-weight="bold" fill="#111" stroke="#111" stroke-width="0" transform="translate(145.7,289.3)"><text x="-0.51" y="0.00" font-size="10.90" textLength="5.53" lengthAdjust="spacingAndGlyphs">П</text><text x="8.44" y="0.00" font-size="10.90" textLength="6.82" lengthAdjust="spacingAndGlyphs">Н</text><text x="18.92" y="0.00" font-size="10.90" textLength="5.03" lengthAdjust="spacingAndGlyphs">5</text></g>
<line x1="140.7" y1="290.3" x2="174.3" y2="290.3" stroke="#111" stroke-width="1.0"/>
<line x1="174.3" y1="290.3" x2="184.3" y2="297.2" stroke="#111" stroke-width="1.0"/>
<line x1="184.3" y1="292" x2="184.3" y2="302" stroke="#111" stroke-width="2"/>
<g font-weight="bold" fill="#111" stroke="#111" stroke-width="0" transform="translate(292.3,290)"><text x="-0.49" y="0.00" font-size="10.47" textLength="5.31" lengthAdjust="spacingAndGlyphs">П</text><text x="7.38" y="0.00" font-size="10.47" textLength="6.54" lengthAdjust="spacingAndGlyphs">Н</text><text x="16.71" y="0.00" font-size="10.47" textLength="4.83" lengthAdjust="spacingAndGlyphs">5</text></g>
<line x1="290" y1="291.1" x2="317" y2="291.1" stroke="#111" stroke-width="1.0"/>
<line x1="317" y1="291.1" x2="321" y2="295" stroke="#111" stroke-width="1.0"/>
<line x1="321" y1="293" x2="321" y2="301.6" stroke="#111" stroke-width="2"/>
<line x1="321" y1="293.4" x2="339.4" y2="281" stroke="#111" stroke-width="1.0"/>
<line x1="307.6" y1="257.5" x2="307.6" y2="274.7" stroke="#111" stroke-width="3"/>
<line x1="303.5" y1="262.3" x2="330.2" y2="262.3" stroke="#111" stroke-width="1.2"/>
<polygon points="330.2,262.3 314.2,264.6 314.2,260.0" fill="#111"/>
<g font-weight="bold" fill="#111" stroke="#111" stroke-width="0" transform="translate(319.2,274.7)"><text x="-0.49" y="0.00" font-size="14.10" textLength="7.86" lengthAdjust="spacingAndGlyphs">2</text></g>
<circle cx="23.5" cy="270.9" r="16.6" fill="none" stroke="#111" stroke-width="1.2"/>
<line x1="6.899999999999999" y1="270.9" x2="40.1" y2="270.9" stroke="#111" stroke-width="1.1"/>
<g font-weight="bold" fill="#111" stroke="#111" stroke-width="0" transform="translate(15.9,268.5)"><text x="-0.42" y="0.00" font-size="14.97" textLength="6.75" lengthAdjust="spacingAndGlyphs">9</text><text x="6.61" y="0.00" font-size="14.97" textLength="6.83" lengthAdjust="spacingAndGlyphs">б</text></g>
<g font-weight="bold" fill="#111" stroke="#111" stroke-width="0" transform="translate(19.4,282.3)"><text x="-0.44" y="0.00" font-size="13.08" textLength="3.87" lengthAdjust="spacingAndGlyphs">1</text><text x="4.99" y="0.00" font-size="13.08" textLength="6.21" lengthAdjust="spacingAndGlyphs">6</text></g>
<line x1="39.1" y1="270.6" x2="74.7" y2="270.6" stroke="#111" stroke-width="1.0"/>
<line x1="74.7" y1="270.6" x2="109.6" y2="298.5" stroke="#111" stroke-width="1.0"/>
<g font-weight="bold" fill="#111" stroke="#111" stroke-width="0" transform="translate(43.5,321.8)"><text x="-0.62" y="0.00" font-size="12.79" textLength="7.76" lengthAdjust="spacingAndGlyphs">М</text><text x="6.94" y="0.00" font-size="12.79" textLength="8.00" lengthAdjust="spacingAndGlyphs">Н</text><text x="15.08" y="0.00" font-size="12.79" textLength="5.51" lengthAdjust="spacingAndGlyphs">а</text><text x="21.58" y="0.00" font-size="12.79" textLength="5.91" lengthAdjust="spacingAndGlyphs">3</text></g>
<line x1="36.6" y1="323.2" x2="73.2" y2="323.2" stroke="#111" stroke-width="1.0"/>
<line x1="73.2" y1="323.2" x2="120" y2="306.7" stroke="#111" stroke-width="1.0"/>
<g font-weight="bold" fill="#111" stroke="#111" stroke-width="0" transform="translate(41.8,335.8)"><text x="-0.62" y="0.00" font-size="12.79" textLength="7.76" lengthAdjust="spacingAndGlyphs">М</text><text x="7.91" y="0.00" font-size="12.79" textLength="8.00" lengthAdjust="spacingAndGlyphs">Н</text><text x="17.02" y="0.00" font-size="12.79" textLength="5.51" lengthAdjust="spacingAndGlyphs">а</text><text x="24.30" y="0.00" font-size="12.79" textLength="3.79" lengthAdjust="spacingAndGlyphs">1</text></g>
<line x1="36.6" y1="337.2" x2="74" y2="337.2" stroke="#111" stroke-width="1.0"/>
<line x1="74" y1="337.2" x2="128.5" y2="307" stroke="#111" stroke-width="1.0"/>
<g font-weight="bold" fill="#111" stroke="#111" stroke-width="0" transform="translate(42.7,347.1)"><text x="-0.20" y="0.00" font-size="12.79" textLength="5.68" lengthAdjust="spacingAndGlyphs">А</text><text x="6.39" y="0.00" font-size="12.79" textLength="8.00" lengthAdjust="spacingAndGlyphs">Н</text><text x="15.20" y="0.00" font-size="12.79" textLength="5.51" lengthAdjust="spacingAndGlyphs">а</text><text x="22.38" y="0.00" font-size="12.79" textLength="5.91" lengthAdjust="spacingAndGlyphs">3</text></g>
<line x1="36.6" y1="348.9" x2="76.7" y2="348.9" stroke="#111" stroke-width="1.0"/>
<line x1="76.7" y1="348.9" x2="120" y2="313.6" stroke="#111" stroke-width="1.0"/>
<g font-weight="bold" fill="#111" stroke="#111" stroke-width="0" transform="translate(43.5,359.3)"><text x="-0.20" y="0.00" font-size="12.79" textLength="5.68" lengthAdjust="spacingAndGlyphs">А</text><text x="6.83" y="0.00" font-size="12.79" textLength="8.00" lengthAdjust="spacingAndGlyphs">Н</text><text x="16.08" y="0.00" font-size="12.79" textLength="5.51" lengthAdjust="spacingAndGlyphs">а</text><text x="23.50" y="0.00" font-size="12.79" textLength="3.79" lengthAdjust="spacingAndGlyphs">1</text></g>
<line x1="36.6" y1="361" x2="77.5" y2="361" stroke="#111" stroke-width="1.0"/>
<line x1="77.5" y1="361" x2="130" y2="314" stroke="#111" stroke-width="1.0"/>
<circle cx="22.9" cy="377.2" r="16.6" fill="none" stroke="#111" stroke-width="1.2"/>
<line x1="6.299999999999997" y1="377.2" x2="39.5" y2="377.2" stroke="#111" stroke-width="1.1"/>
<g font-weight="bold" fill="#111" stroke="#111" stroke-width="0" transform="translate(16.3,375.2)"><text x="-0.37" y="0.00" font-size="12.50" textLength="5.96" lengthAdjust="spacingAndGlyphs">2</text><text x="6.77" y="0.00" font-size="12.50" textLength="6.12" lengthAdjust="spacingAndGlyphs">7</text></g>
<g font-weight="bold" fill="#111" stroke="#111" stroke-width="0" transform="translate(18.6,388.4)"><text x="-0.37" y="0.00" font-size="12.50" textLength="5.96" lengthAdjust="spacingAndGlyphs">2</text><text x="6.39" y="0.00" font-size="12.50" textLength="5.36" lengthAdjust="spacingAndGlyphs">4</text></g>
<line x1="39.4" y1="377" x2="58" y2="377" stroke="#111" stroke-width="1.0"/>
<line x1="58" y1="377" x2="129.5" y2="349" stroke="#111" stroke-width="1.0"/>
<g font-weight="bold" fill="#111" stroke="#111" stroke-width="0" transform="translate(47.6,403.4)"><text x="-0.18" y="0.00" font-size="11.48" textLength="5.10" lengthAdjust="spacingAndGlyphs">А</text><text x="8.21" y="0.00" font-size="11.48" textLength="7.18" lengthAdjust="spacingAndGlyphs">Н</text><text x="18.47" y="0.00" font-size="11.48" textLength="3.40" lengthAdjust="spacingAndGlyphs">1</text></g>
<line x1="42.4" y1="405.5" x2="93.1" y2="405.5" stroke="#111" stroke-width="1.0"/>
<line x1="93.1" y1="405.5" x2="132.5" y2="353.1" stroke="#111" stroke-width="1.0"/>
<line x1="81.5" y1="380.5" x2="100" y2="380.5" stroke="#111" stroke-width="3"/>
<line x1="85" y1="377" x2="85" y2="401.9" stroke="#111" stroke-width="1.2"/>
<polygon points="85,401.9 82.5,386.4 87.5,386.4" fill="#111"/>
<g font-weight="bold" fill="#111" stroke="#111" stroke-width="0" transform="translate(91.5,397.3)"><text x="-0.47" y="0.00" font-size="18.60" textLength="4.18" lengthAdjust="spacingAndGlyphs">1</text></g>
<circle cx="21.35" cy="422.9" r="16.6" fill="none" stroke="#111" stroke-width="1.2"/>
<line x1="4.75" y1="422.9" x2="37.95" y2="422.9" stroke="#111" stroke-width="1.1"/>
<g font-weight="bold" fill="#111" stroke="#111" stroke-width="0" transform="translate(19.4,418.5)"></g>
<g font-weight="bold" fill="#111" stroke="#111" stroke-width="0" transform="translate(17.1,434.2)"><text x="-0.40" y="0.00" font-size="13.52" textLength="6.45" lengthAdjust="spacingAndGlyphs">2</text><text x="6.46" y="0.00" font-size="13.52" textLength="6.29" lengthAdjust="spacingAndGlyphs">8</text></g>
<line x1="18.5" y1="409.5" x2="25.7" y2="409.5" stroke="#111" stroke-width="1.3"/>
<line x1="18.5" y1="420.3" x2="25.7" y2="420.3" stroke="#111" stroke-width="1.5"/>
<line x1="20.3" y1="409.5" x2="20.3" y2="420.3" stroke="#111" stroke-width="1.6"/>
<line x1="23.9" y1="409.5" x2="23.9" y2="420.3" stroke="#111" stroke-width="1.6"/>
<g font-weight="bold" fill="#111" stroke="#111" stroke-width="0" transform="translate(39.3,421.4)"><text x="-0.46" y="0.00" font-size="11.74" textLength="5.53" lengthAdjust="spacingAndGlyphs">ш</text><text x="5.84" y="0.00" font-size="11.74" textLength="4.84" lengthAdjust="spacingAndGlyphs">п</text><text x="11.65" y="0.00" font-size="11.74" textLength="4.27" lengthAdjust="spacingAndGlyphs">о</text><text x="16.76" y="0.00" font-size="11.74" textLength="5.97" lengthAdjust="spacingAndGlyphs">н</text><text x="23.25" y="0.00" font-size="11.74" textLength="4.31" lengthAdjust="spacingAndGlyphs">к</text><text x="28.84" y="0.00" font-size="11.74" textLength="4.80" lengthAdjust="spacingAndGlyphs">и</text></g>
<line x1="37.3" y1="422.9" x2="75.5" y2="422.9" stroke="#111" stroke-width="1.0"/>
<line x1="75.5" y1="422.9" x2="129.5" y2="408" stroke="#111" stroke-width="1.0"/>
<g font-weight="bold" fill="#111" stroke="#111" stroke-width="0" transform="translate(43.5,435.9)"><text x="-0.16" y="0.00" font-size="10.17" textLength="4.52" lengthAdjust="spacingAndGlyphs">А</text><text x="6.65" y="0.00" font-size="10.17" textLength="6.36" lengthAdjust="spacingAndGlyphs">Н</text><text x="15.23" y="0.00" font-size="10.17" textLength="4.38" lengthAdjust="spacingAndGlyphs">а</text><text x="22.51" y="0.00" font-size="10.17" textLength="4.70" lengthAdjust="spacingAndGlyphs">3</text></g>
<line x1="41.4" y1="437" x2="94.2" y2="437" stroke="#111" stroke-width="1.0"/>
<line x1="94.2" y1="437" x2="117" y2="450.6" stroke="#111" stroke-width="1.0"/>
<g font-weight="bold" fill="#111" stroke="#111" stroke-width="0" transform="translate(41,469.9)"><text x="-0.18" y="0.00" font-size="11.63" textLength="5.17" lengthAdjust="spacingAndGlyphs">А</text><text x="6.73" y="0.00" font-size="11.63" textLength="7.27" lengthAdjust="spacingAndGlyphs">Н</text><text x="15.66" y="0.00" font-size="11.63" textLength="5.01" lengthAdjust="spacingAndGlyphs">а</text><text x="22.93" y="0.00" font-size="11.63" textLength="3.44" lengthAdjust="spacingAndGlyphs">1</text></g>
<line x1="36" y1="471.9" x2="79.7" y2="471.9" stroke="#111" stroke-width="1.0"/>
<line x1="79.7" y1="471.9" x2="125.6" y2="451" stroke="#111" stroke-width="1.0"/>
<circle cx="21.8" cy="497.4" r="16.6" fill="none" stroke="#111" stroke-width="1.2"/>
<line x1="5.199999999999999" y1="497.4" x2="38.400000000000006" y2="497.4" stroke="#111" stroke-width="1.1"/>
<g font-weight="bold" fill="#111" stroke="#111" stroke-width="0" transform="translate(15.9,494.8)"><text x="-0.42" y="0.00" font-size="13.08" textLength="3.71" lengthAdjust="spacingAndGlyphs">1</text><text x="3.75" y="0.00" font-size="13.08" textLength="6.04" lengthAdjust="spacingAndGlyphs">0</text><text x="9.98" y="0.00" font-size="13.08" textLength="6.00" lengthAdjust="spacingAndGlyphs">б</text></g>
<g font-weight="bold" fill="#111" stroke="#111" stroke-width="0" transform="translate(16.4,509.1)"><text x="-0.40" y="0.00" font-size="11.92" textLength="3.53" lengthAdjust="spacingAndGlyphs">1</text><text x="4.21" y="0.00" font-size="11.92" textLength="5.66" lengthAdjust="spacingAndGlyphs">6</text></g>
<line x1="38.3" y1="497.3" x2="94.6" y2="497.3" stroke="#111" stroke-width="1.0"/>
<line x1="94.6" y1="497.3" x2="117" y2="462.4" stroke="#111" stroke-width="1.0"/>
<line x1="137.8" y1="351.1" x2="159" y2="351.1" stroke="#111" stroke-width="1.0"/>
<line x1="155.3" y1="351.1" x2="155.3" y2="458.4" stroke="#111" stroke-width="1.0"/>
<line x1="153.4" y1="353.0" x2="157.20000000000002" y2="349.20000000000005" stroke="#111" stroke-width="1.25"/>
<line x1="153.4" y1="460.29999999999995" x2="157.20000000000002" y2="456.5" stroke="#111" stroke-width="1.25"/>
<g font-weight="bold" fill="#111" stroke="#111" stroke-width="0" transform="translate(152.3,414.2) rotate(-90)"><text x="-0.37" y="0.00" font-size="10.90" textLength="3.23" lengthAdjust="spacingAndGlyphs">1</text><text x="4.61" y="0.00" font-size="10.90" textLength="5.07" lengthAdjust="spacingAndGlyphs">8</text><text x="11.23" y="0.00" font-size="10.90" textLength="5.26" lengthAdjust="spacingAndGlyphs">0</text><text x="17.93" y="0.00" font-size="10.90" textLength="5.26" lengthAdjust="spacingAndGlyphs">0</text></g>
<polyline points="105,467.1 105.8,301.6 112.2,299.5 113.5,296 116,292.9 124.7,292.9 125.3,301.6" fill="none" stroke="#111" stroke-width="1.5" stroke-linejoin="miter"/>
<line x1="112" y1="301.6" x2="389.7" y2="301.6" stroke="#111" stroke-width="1.4"/>
<line x1="389.5" y1="301.6" x2="389.5" y2="458.4" stroke="#111" stroke-width="1.4"/>
<line x1="113" y1="458.4" x2="389.5" y2="458.4" stroke="#111" stroke-width="1.4"/>
<polyline points="135.3,301.6 135.3,315.3 129.5,320.9 129.5,441.4 132.5,446.1 132.5,458.4" fill="none" stroke="#111" stroke-width="1.3" stroke-linejoin="miter"/>
<polyline points="105,467.1 115.7,467.1 119.6,458.4" fill="none" stroke="#111" stroke-width="1.3" stroke-linejoin="miter"/>
<line x1="110.1" y1="467.1" x2="112.7" y2="458" stroke="#111" stroke-width="1.0"/>
<line x1="114.8" y1="450.6" x2="120.9" y2="450.6" stroke="#111" stroke-width="2"/>
<line x1="126.9" y1="450.6" x2="132.5" y2="450.6" stroke="#111" stroke-width="2"/>
<line x1="118.1" y1="306.7" x2="125.3" y2="306.7" stroke="#111" stroke-width="2.2"/>
<line x1="128.8" y1="306.7" x2="135.3" y2="306.7" stroke="#111" stroke-width="2.2"/>
<line x1="118.1" y1="313.6" x2="125.3" y2="313.6" stroke="#111" stroke-width="2.2"/>
<line x1="128.8" y1="313.6" x2="135.3" y2="313.6" stroke="#111" stroke-width="2.2"/>
<polyline points="129.5,344.5 133.6,344.5 136,348 136,353 133.6,354.7 129.5,354.7" fill="none" stroke="#111" stroke-width="1.1" stroke-linejoin="miter"/>
<line x1="129.5" y1="350.5" x2="136" y2="350.5" stroke="#111" stroke-width="0.9"/>
<polyline points="378.1,301.6 378.3,318.3 389.3,321.4" fill="none" stroke="#111" stroke-width="1.4" stroke-linejoin="miter"/>
<line x1="383.4" y1="320" x2="383" y2="445.4" stroke="#111" stroke-width="1.4"/>
<polyline points="377.7,458.4 377.7,446.7 389.3,444.6" fill="none" stroke="#111" stroke-width="1.3" stroke-linejoin="miter"/>
<line x1="377.7" y1="451.9" x2="386.3" y2="451.9" stroke="#111" stroke-width="2"/>
<line x1="378.3" y1="307.2" x2="384.8" y2="307.2" stroke="#111" stroke-width="2.4"/>
<line x1="378.3" y1="314.5" x2="384.8" y2="314.5" stroke="#111" stroke-width="2.4"/>
<polyline points="383,346.1 378.5,347.4 378.5,355.2 383,357.2" fill="none" stroke="#111" stroke-width="1.4" stroke-linejoin="miter"/>
<line x1="378.5" y1="351.6" x2="383" y2="351.6" stroke="#111" stroke-width="2.2"/>
<polygon points="187,315.5 320.2,315.5 320.2,451.2 274.8,451.2 274.8,412.5 187,412.5" fill="none" stroke="#111" stroke-width="1.5" stroke-linejoin="miter"/>
<polygon points="189.3,317.8 317.9,317.8 317.9,448.9 277.1,448.9 277.1,410.2 189.3,410.2" fill="none" stroke="#111" stroke-width="1.1" stroke-linejoin="miter"/>
<polygon points="191.6,320.1 315.6,320.1 315.6,446.6 279.4,446.6 279.4,407.9 191.6,407.9" fill="none" stroke="#111" stroke-width="1.1" stroke-linejoin="miter"/>
<rect x="183.2" y="330.0" width="3.8000000000000114" height="6.7999999999999545" fill="none" stroke="#111" stroke-width="1.1"/>
<line x1="179" y1="333.4" x2="209" y2="333.4" stroke="#444" stroke-width="0.7"/>
<rect x="183.2" y="388.1" width="3.8000000000000114" height="6.7999999999999545" fill="none" stroke="#111" stroke-width="1.1"/>
<line x1="179" y1="391.5" x2="209" y2="391.5" stroke="#444" stroke-width="0.7"/>
<rect x="320.2" y="331.1" width="3.8000000000000114" height="6.7999999999999545" fill="none" stroke="#111" stroke-width="1.1"/>
<line x1="298.2" y1="334.5" x2="329.2" y2="334.5" stroke="#444" stroke-width="0.7"/>
<rect x="320.2" y="388.1" width="3.8000000000000114" height="6.7999999999999545" fill="none" stroke="#111" stroke-width="1.1"/>
<line x1="298.2" y1="391.5" x2="329.2" y2="391.5" stroke="#444" stroke-width="0.7"/>
<rect x="320.2" y="429.1" width="3.8000000000000114" height="6.7999999999999545" fill="none" stroke="#111" stroke-width="1.1"/>
<line x1="298.2" y1="432.5" x2="329.2" y2="432.5" stroke="#444" stroke-width="0.7"/>
<rect x="271.0" y="429.1" width="3.8000000000000114" height="6.7999999999999545" fill="none" stroke="#111" stroke-width="1.1"/>
<line x1="266.8" y1="432.5" x2="296.8" y2="432.5" stroke="#444" stroke-width="0.7"/>
<g font-weight="bold" fill="#111" stroke="#111" stroke-width="0" transform="translate(207.1,334.4) rotate(-90)"><text x="-0.17" y="0.00" font-size="8.72" textLength="4.03" lengthAdjust="spacingAndGlyphs">3</text><text x="4.60" y="0.00" font-size="8.72" textLength="4.21" lengthAdjust="spacingAndGlyphs">0</text><text x="9.50" y="0.00" font-size="8.72" textLength="4.21" lengthAdjust="spacingAndGlyphs">0</text></g>
<line x1="209.4" y1="312.5" x2="209.4" y2="333.4" stroke="#555" stroke-width="0.7"/>
<line x1="207.20000000000002" y1="335.59999999999997" x2="211.6" y2="331.2" stroke="#111" stroke-width="1.3"/>
<g font-weight="bold" fill="#111" stroke="#111" stroke-width="0" transform="translate(301.2,336.3) rotate(-90)"><text x="-0.17" y="0.00" font-size="8.72" textLength="4.03" lengthAdjust="spacingAndGlyphs">3</text><text x="4.55" y="0.00" font-size="8.72" textLength="4.21" lengthAdjust="spacingAndGlyphs">0</text><text x="9.40" y="0.00" font-size="8.72" textLength="4.21" lengthAdjust="spacingAndGlyphs">0</text></g>
<line x1="303.9" y1="312" x2="303.9" y2="334.5" stroke="#555" stroke-width="0.7"/>
<line x1="301.7" y1="336.7" x2="306.09999999999997" y2="332.3" stroke="#111" stroke-width="1.3"/>
<g font-weight="bold" fill="#111" stroke="#111" stroke-width="0" transform="translate(206.2,406.5) rotate(-90)"><text x="-0.17" y="0.00" font-size="8.72" textLength="4.03" lengthAdjust="spacingAndGlyphs">3</text><text x="4.55" y="0.00" font-size="8.72" textLength="4.21" lengthAdjust="spacingAndGlyphs">0</text><text x="9.40" y="0.00" font-size="8.72" textLength="4.21" lengthAdjust="spacingAndGlyphs">0</text></g>
<line x1="209.4" y1="391.5" x2="209.4" y2="413" stroke="#555" stroke-width="0.7"/>
<line x1="207.20000000000002" y1="393.7" x2="211.6" y2="389.3" stroke="#111" stroke-width="1.3"/>
<g font-weight="bold" fill="#111" stroke="#111" stroke-width="0" transform="translate(301.2,444.5) rotate(-90)"><text x="-0.17" y="0.00" font-size="8.72" textLength="4.03" lengthAdjust="spacingAndGlyphs">3</text><text x="5.50" y="0.00" font-size="8.72" textLength="4.21" lengthAdjust="spacingAndGlyphs">0</text><text x="11.30" y="0.00" font-size="8.72" textLength="4.21" lengthAdjust="spacingAndGlyphs">0</text></g>
<line x1="303.9" y1="432.5" x2="303.9" y2="452" stroke="#555" stroke-width="0.7"/>
<line x1="301.7" y1="434.7" x2="306.09999999999997" y2="430.3" stroke="#111" stroke-width="1.3"/>
<circle cx="277.2" cy="359.4" r="16.6" fill="none" stroke="#111" stroke-width="1.2"/>
<line x1="260.59999999999997" y1="359.4" x2="293.8" y2="359.4" stroke="#111" stroke-width="1.1"/>
<g font-weight="bold" fill="#111" stroke="#111" stroke-width="0" transform="translate(269.7,356.6)"><text x="-0.38" y="0.00" font-size="12.65" textLength="6.03" lengthAdjust="spacingAndGlyphs">2</text><text x="6.40" y="0.00" font-size="12.65" textLength="5.84" lengthAdjust="spacingAndGlyphs">3</text><text x="12.99" y="0.00" font-size="12.65" textLength="5.44" lengthAdjust="spacingAndGlyphs">а</text></g>
<g font-weight="bold" fill="#111" stroke="#111" stroke-width="0" transform="translate(272.2,370.3)"><text x="-0.39" y="0.00" font-size="13.08" textLength="6.24" lengthAdjust="spacingAndGlyphs">2</text><text x="7.35" y="0.00" font-size="13.08" textLength="6.04" lengthAdjust="spacingAndGlyphs">3</text></g>
<line x1="294.1" y1="359.2" x2="316" y2="335" stroke="#111" stroke-width="1.0"/>
<g font-weight="bold" fill="#111" stroke="#111" stroke-width="0" transform="translate(401,294.5)"><text x="-0.60" y="0.00" font-size="12.35" textLength="7.49" lengthAdjust="spacingAndGlyphs">М</text><text x="9.13" y="0.00" font-size="12.35" textLength="7.73" lengthAdjust="spacingAndGlyphs">Н</text><text x="19.41" y="0.00" font-size="12.35" textLength="5.32" lengthAdjust="spacingAndGlyphs">а</text><text x="27.93" y="0.00" font-size="12.35" textLength="3.66" lengthAdjust="spacingAndGlyphs">1</text></g>
<line x1="396.6" y1="295.6" x2="434.7" y2="295.6" stroke="#111" stroke-width="1.0"/>
<line x1="396.6" y1="295.6" x2="385.4" y2="302.3" stroke="#111" stroke-width="1.0"/>
<g font-weight="bold" fill="#111" stroke="#111" stroke-width="0" transform="translate(405.4,320.7)"><text x="-0.18" y="0.00" font-size="11.63" textLength="5.17" lengthAdjust="spacingAndGlyphs">А</text><text x="7.46" y="0.00" font-size="11.63" textLength="7.27" lengthAdjust="spacingAndGlyphs">Н</text><text x="17.12" y="0.00" font-size="11.63" textLength="5.01" lengthAdjust="spacingAndGlyphs">а</text><text x="25.13" y="0.00" font-size="11.63" textLength="3.44" lengthAdjust="spacingAndGlyphs">1</text></g>
<line x1="396.9" y1="323.2" x2="437.6" y2="323.2" stroke="#111" stroke-width="1.0"/>
<line x1="396.9" y1="323.2" x2="388.3" y2="314.6" stroke="#111" stroke-width="1.0"/>
<g font-weight="bold" fill="#111" stroke="#111" stroke-width="0" transform="translate(407.3,336.4)"><text x="-0.17" y="0.00" font-size="10.90" textLength="4.84" lengthAdjust="spacingAndGlyphs">А</text><text x="7.44" y="0.00" font-size="10.90" textLength="6.82" lengthAdjust="spacingAndGlyphs">Н</text><text x="16.83" y="0.00" font-size="10.90" textLength="3.23" lengthAdjust="spacingAndGlyphs">1</text></g>
<line x1="395" y1="338.3" x2="437.6" y2="338.3" stroke="#111" stroke-width="1.0"/>
<line x1="395" y1="338.3" x2="380.8" y2="350.7" stroke="#111" stroke-width="1.0"/>
<circle cx="428.3" cy="375.4" r="16.7" fill="none" stroke="#111" stroke-width="1.2"/>
<line x1="411.6" y1="375.4" x2="445.0" y2="375.4" stroke="#111" stroke-width="1.1"/>
<g font-weight="bold" fill="#111" stroke="#111" stroke-width="0" transform="translate(423,372.9)"><text x="-0.39" y="0.00" font-size="13.08" textLength="6.24" lengthAdjust="spacingAndGlyphs">2</text><text x="6.57" y="0.00" font-size="13.08" textLength="6.04" lengthAdjust="spacingAndGlyphs">5</text></g>
<g font-weight="bold" fill="#111" stroke="#111" stroke-width="0" transform="translate(423.8,386.8)"><text x="-0.35" y="0.00" font-size="11.77" textLength="5.61" lengthAdjust="spacingAndGlyphs">2</text><text x="8.10" y="0.00" font-size="11.77" textLength="5.05" lengthAdjust="spacingAndGlyphs">4</text></g>
<line x1="412.1" y1="375.3" x2="381.7" y2="350.7" stroke="#111" stroke-width="1.0"/>
<line x1="391.3" y1="379" x2="405.8" y2="379" stroke="#111" stroke-width="3"/>
<line x1="403.1" y1="376" x2="403.1" y2="400.5" stroke="#111" stroke-width="1.2"/>
<polygon points="403.1,400.5 400.9,386.5 405.3,386.5" fill="#111"/>
<g font-weight="bold" fill="#111" stroke="#111" stroke-width="0" transform="translate(394.7,394.4)"><text x="-0.45" y="0.00" font-size="18.02" textLength="3.94" lengthAdjust="spacingAndGlyphs">1</text></g>
<g font-weight="bold" fill="#111" stroke="#111" stroke-width="0" transform="translate(395.4,420.1)"><text x="-0.45" y="0.00" font-size="11.36" textLength="5.35" lengthAdjust="spacingAndGlyphs">ш</text><text x="6.38" y="0.00" font-size="11.36" textLength="4.68" lengthAdjust="spacingAndGlyphs">п</text><text x="12.74" y="0.00" font-size="11.36" textLength="4.13" lengthAdjust="spacingAndGlyphs">о</text><text x="18.42" y="0.00" font-size="11.36" textLength="5.78" lengthAdjust="spacingAndGlyphs">н</text><text x="25.44" y="0.00" font-size="11.36" textLength="4.17" lengthAdjust="spacingAndGlyphs">к</text><text x="31.58" y="0.00" font-size="11.36" textLength="4.65" lengthAdjust="spacingAndGlyphs">и</text></g>
<line x1="396.2" y1="422.7" x2="433" y2="422.7" stroke="#111" stroke-width="1.0"/>
<line x1="396.2" y1="422.7" x2="383.2" y2="413.1" stroke="#111" stroke-width="1.0"/>
<circle cx="449.2" cy="422" r="16.4" fill="none" stroke="#111" stroke-width="1.2"/>
<line x1="432.8" y1="422" x2="465.59999999999997" y2="422" stroke="#111" stroke-width="1.1"/>
<g font-weight="bold" fill="#111" stroke="#111" stroke-width="0" transform="translate(447.8,418.5)"></g>
<g font-weight="bold" fill="#111" stroke="#111" stroke-width="0" transform="translate(444.3,434.3)"><text x="-0.37" y="0.00" font-size="14.24" textLength="5.96" lengthAdjust="spacingAndGlyphs">2</text><text x="5.87" y="0.00" font-size="14.24" textLength="6.12" lengthAdjust="spacingAndGlyphs">7</text></g>
<line x1="446.5" y1="410" x2="452.5" y2="410" stroke="#111" stroke-width="1.3"/>
<line x1="446.5" y1="420.2" x2="452.5" y2="420.2" stroke="#111" stroke-width="1.5"/>
<line x1="449.5" y1="410" x2="449.5" y2="420.2" stroke="#111" stroke-width="1.7"/>
<g font-weight="bold" fill="#111" stroke="#111" stroke-width="0" transform="translate(400.6,440.1)"><text x="-0.17" y="0.00" font-size="11.34" textLength="5.04" lengthAdjust="spacingAndGlyphs">А</text><text x="7.04" y="0.00" font-size="11.34" textLength="7.09" lengthAdjust="spacingAndGlyphs">Н</text><text x="16.23" y="0.00" font-size="11.34" textLength="4.88" lengthAdjust="spacingAndGlyphs">а</text><text x="23.81" y="0.00" font-size="11.34" textLength="3.36" lengthAdjust="spacingAndGlyphs">1</text></g>
<line x1="396" y1="441" x2="428.5" y2="441" stroke="#111" stroke-width="1.0"/>
<line x1="396" y1="441" x2="388.4" y2="445.4" stroke="#111" stroke-width="1.0"/>
<circle cx="430.9" cy="482.6" r="16.8" fill="none" stroke="#111" stroke-width="1.2"/>
<line x1="414.09999999999997" y1="482.6" x2="447.7" y2="482.6" stroke="#111" stroke-width="1.1"/>
<g font-weight="bold" fill="#111" stroke="#111" stroke-width="0" transform="translate(426.1,479.8)"><text x="-0.41" y="0.00" font-size="14.97" textLength="6.51" lengthAdjust="spacingAndGlyphs">2</text><text x="6.38" y="0.00" font-size="14.97" textLength="6.54" lengthAdjust="spacingAndGlyphs">б</text></g>
<g font-weight="bold" fill="#111" stroke="#111" stroke-width="0" transform="translate(427,494.9)"><text x="-0.45" y="0.00" font-size="14.97" textLength="6.90" lengthAdjust="spacingAndGlyphs">6</text></g>
<line x1="414.3" y1="482.2" x2="384.5" y2="458.4" stroke="#111" stroke-width="1.0"/>
<line x1="352.3" y1="351.6" x2="378" y2="351.6" stroke="#111" stroke-width="1.0"/>
<line x1="353.2" y1="351.6" x2="353.2" y2="458.4" stroke="#111" stroke-width="1.0"/>
<line x1="351.3" y1="353.5" x2="355.09999999999997" y2="349.70000000000005" stroke="#111" stroke-width="1.25"/>
<line x1="351.3" y1="460.29999999999995" x2="355.09999999999997" y2="456.5" stroke="#111" stroke-width="1.25"/>
<g font-weight="bold" fill="#111" stroke="#111" stroke-width="0" transform="translate(351.1,417.5) rotate(-90)"><text x="-0.37" y="0.00" font-size="10.90" textLength="3.23" lengthAdjust="spacingAndGlyphs">1</text><text x="4.28" y="0.00" font-size="10.90" textLength="5.07" lengthAdjust="spacingAndGlyphs">8</text><text x="10.56" y="0.00" font-size="10.90" textLength="5.26" lengthAdjust="spacingAndGlyphs">0</text><text x="16.93" y="0.00" font-size="10.90" textLength="5.26" lengthAdjust="spacingAndGlyphs">0</text></g>
<g font-weight="bold" fill="#111" stroke="#111" stroke-width="0" transform="translate(0,475.7)"><g transform="translate(227.9,0)"><text x="-0.47" y="0.00" font-size="15.26" textLength="4.18" lengthAdjust="spacingAndGlyphs">1</text></g><g transform="translate(241.4,0)"><text x="-0.66" y="0.00" font-size="15.26" textLength="5.64" lengthAdjust="spacingAndGlyphs">-</text></g><g transform="translate(253.6,0)"><text x="-0.53" y="0.00" font-size="15.26" textLength="4.66" lengthAdjust="spacingAndGlyphs">1</text></g></g>
<line x1="217.4" y1="478.7" x2="271" y2="478.7" stroke="#111" stroke-width="2.5"/>
<g font-weight="bold" fill="#111" stroke="#111" stroke-width="0" transform="translate(218.9,493.3)"><text x="-0.18" y="0.00" font-size="11.63" textLength="5.17" lengthAdjust="spacingAndGlyphs">А</text><text x="6.98" y="0.00" font-size="11.63" textLength="5.60" lengthAdjust="spacingAndGlyphs">Б</text><text x="14.32" y="0.00" font-size="11.63" textLength="7.27" lengthAdjust="spacingAndGlyphs">Н</text><text x="23.52" y="0.00" font-size="11.63" textLength="4.98" lengthAdjust="spacingAndGlyphs">Т</text><text x="30.72" y="0.00" font-size="11.63" textLength="3.44" lengthAdjust="spacingAndGlyphs">1</text><text x="36.17" y="0.00" font-size="11.63" textLength="4.41" lengthAdjust="spacingAndGlyphs">-</text><text x="42.61" y="0.00" font-size="11.63" textLength="4.98" lengthAdjust="spacingAndGlyphs">4</text><text x="49.81" y="0.00" font-size="11.63" textLength="5.69" lengthAdjust="spacingAndGlyphs">7</text><text x="57.23" y="0.00" font-size="11.63" textLength="4.41" lengthAdjust="spacingAndGlyphs">-</text><text x="63.46" y="0.00" font-size="11.63" textLength="5.54" lengthAdjust="spacingAndGlyphs">2</text><text x="70.89" y="0.00" font-size="11.63" textLength="5.57" lengthAdjust="spacingAndGlyphs">б</text></g>
<line x1="199.4" y1="495.4" x2="296.6" y2="495.4" stroke="#111" stroke-width="1.0"/>
<line x1="199.4" y1="495.4" x2="188" y2="509.3" stroke="#111" stroke-width="1.0"/>
<line x1="296.6" y1="495.4" x2="312.5" y2="509.3" stroke="#111" stroke-width="1.0"/>
<line x1="307" y1="462" x2="307" y2="481.9" stroke="#111" stroke-width="3"/>
<line x1="303.4" y1="478.3" x2="328" y2="478.3" stroke="#111" stroke-width="1.2"/>
<polygon points="328,478.3 313.0,480.8 313.0,475.8" fill="#111"/>
<g font-weight="bold" fill="#111" stroke="#111" stroke-width="0" transform="translate(314,472.9)"><text x="-0.49" y="0.00" font-size="18.31" textLength="7.86" lengthAdjust="spacingAndGlyphs">2</text></g>
<circle cx="351" cy="487.4" r="16.7" fill="none" stroke="#111" stroke-width="1.2"/>
<line x1="334.3" y1="487.4" x2="367.7" y2="487.4" stroke="#111" stroke-width="1.1"/>
<g font-weight="bold" fill="#111" stroke="#111" stroke-width="0" transform="translate(345.7,485.7)"><text x="-0.39" y="0.00" font-size="13.08" textLength="6.24" lengthAdjust="spacingAndGlyphs">2</text><text x="6.45" y="0.00" font-size="13.08" textLength="6.04" lengthAdjust="spacingAndGlyphs">3</text></g>
<g font-weight="bold" fill="#111" stroke="#111" stroke-width="0" transform="translate(347.8,499.9)"><text x="-0.39" y="0.00" font-size="13.81" textLength="6.33" lengthAdjust="spacingAndGlyphs">2</text><text x="6.37" y="0.00" font-size="13.81" textLength="6.13" lengthAdjust="spacingAndGlyphs">3</text></g>
<line x1="334.9" y1="487.4" x2="322" y2="487.4" stroke="#111" stroke-width="1.0"/>
<line x1="322" y1="487.4" x2="311.5" y2="508.3" stroke="#111" stroke-width="1.0"/>
<line x1="103.6" y1="509.3" x2="388.2" y2="509.3" stroke="#111" stroke-width="1.4"/>
<polyline points="103.6,509.3 103.6,523 123.5,523 123.5,529.9 127.3,529.9 127.3,523 129.1,523 134.7,529.9 180.2,529.9" fill="none" stroke="#111" stroke-width="1.4" stroke-linejoin="miter"/>
<line x1="180.2" y1="529.9" x2="383" y2="530.4" stroke="#111" stroke-width="1.4"/>
<polyline points="180.2,529.9 188.3,511.2 190.2,515.6 272.6,515.9" fill="none" stroke="#111" stroke-width="1.2" stroke-linejoin="miter"/>
<polyline points="272.6,509.3 274.6,515.9 268.6,530.4" fill="none" stroke="#111" stroke-width="1.2" stroke-linejoin="miter"/>
<line x1="312.5" y1="509.3" x2="311.5" y2="515.9" stroke="#111" stroke-width="1.2"/>
<line x1="311.5" y1="515.9" x2="318.5" y2="530.4" stroke="#111" stroke-width="1.2"/>
<line x1="274.6" y1="515.9" x2="311.5" y2="515.9" stroke="#111" stroke-width="1.2"/>
<polyline points="388.2,509.3 388.2,520.4 385.2,522.7 383,525.6 383,530.4" fill="none" stroke="#111" stroke-width="1.4" stroke-linejoin="miter"/>
<line x1="139.7" y1="511.5" x2="139.7" y2="527.5" stroke="#111" stroke-width="2"/>
<circle cx="142.2" cy="513" r="1.3" fill="#111"/><circle cx="142.2" cy="526" r="1.3" fill="#111"/>
<line x1="177.7" y1="511.5" x2="177.7" y2="527.5" stroke="#111" stroke-width="2"/>
<circle cx="180.2" cy="513" r="1.3" fill="#111"/><circle cx="180.2" cy="526" r="1.3" fill="#111"/>
<line x1="322.4" y1="511.5" x2="322.4" y2="527.5" stroke="#111" stroke-width="2"/>
<circle cx="324.9" cy="513" r="1.3" fill="#111"/><circle cx="324.9" cy="526" r="1.3" fill="#111"/>
<line x1="372.5" y1="511.5" x2="372.5" y2="527.5" stroke="#111" stroke-width="2"/>
<circle cx="375.0" cy="513" r="1.3" fill="#111"/><circle cx="375.0" cy="526" r="1.3" fill="#111"/>
<line x1="172" y1="511.5" x2="183" y2="511.5" stroke="#111" stroke-width="1.8"/>
<line x1="317" y1="511.5" x2="330" y2="511.5" stroke="#111" stroke-width="1.8"/>
<polyline points="121,512.5 108,512.5 106.8,515 108,517.5 112,517.5" fill="none" stroke="#111" stroke-width="1.6" stroke-linejoin="miter"/>
<polyline points="108,517.5 106.8,520 108,521.5 121,521.5" fill="none" stroke="#111" stroke-width="1.6" stroke-linejoin="miter"/>
<line x1="114" y1="512.5" x2="119" y2="512.5" stroke="#111" stroke-width="1.6"/>
<line x1="127" y1="512.5" x2="139.7" y2="512.5" stroke="#111" stroke-width="1.6"/>
<line x1="103.6" y1="528" x2="103.6" y2="575" stroke="#111" stroke-width="1.0"/>
<line x1="132.2" y1="535" x2="132.2" y2="546" stroke="#111" stroke-width="1.0"/>
<line x1="185.2" y1="523" x2="185.2" y2="575" stroke="#111" stroke-width="1.0"/>
<line x1="100" y1="543.6" x2="148" y2="543.6" stroke="#111" stroke-width="1.0"/>
<line x1="101.69999999999999" y1="545.5" x2="105.5" y2="541.7" stroke="#111" stroke-width="1.25"/>
<line x1="130.29999999999998" y1="545.5" x2="134.1" y2="541.7" stroke="#111" stroke-width="1.25"/>
<line x1="139.1" y1="545.5" x2="142.9" y2="541.7" stroke="#111" stroke-width="1.25"/>
<g font-weight="bold" fill="#111" stroke="#111" stroke-width="0" transform="translate(108.6,540.5)"><text x="-0.19" y="0.00" font-size="10.17" textLength="4.70" lengthAdjust="spacingAndGlyphs">3</text><text x="5.88" y="0.00" font-size="10.17" textLength="4.36" lengthAdjust="spacingAndGlyphs">4</text><text x="11.65" y="0.00" font-size="10.17" textLength="4.91" lengthAdjust="spacingAndGlyphs">0</text></g>
<g font-weight="bold" fill="#111" stroke="#111" stroke-width="0" transform="translate(134.1,540.5)"><text x="-0.34" y="0.00" font-size="10.17" textLength="3.01" lengthAdjust="spacingAndGlyphs">1</text><text x="3.91" y="0.00" font-size="10.17" textLength="4.85" lengthAdjust="spacingAndGlyphs">2</text><text x="9.75" y="0.00" font-size="10.17" textLength="4.91" lengthAdjust="spacingAndGlyphs">0</text></g>
<line x1="100" y1="569" x2="392" y2="569" stroke="#111" stroke-width="1.0"/>
<line x1="101.69999999999999" y1="570.9" x2="105.5" y2="567.1" stroke="#111" stroke-width="1.25"/>
<line x1="182.6" y1="570.9" x2="186.4" y2="567.1" stroke="#111" stroke-width="1.25"/>
<line x1="312.6" y1="570.9" x2="316.4" y2="567.1" stroke="#111" stroke-width="1.25"/>
<line x1="387.3" y1="570.9" x2="391.09999999999997" y2="567.1" stroke="#111" stroke-width="1.25"/>
<g font-weight="bold" fill="#111" stroke="#111" stroke-width="0" transform="translate(133.2,565.8)"><text x="-0.37" y="0.00" font-size="10.90" textLength="3.23" lengthAdjust="spacingAndGlyphs">1</text><text x="5.83" y="0.00" font-size="10.90" textLength="5.03" lengthAdjust="spacingAndGlyphs">3</text><text x="13.54" y="0.00" font-size="10.90" textLength="5.17" lengthAdjust="spacingAndGlyphs">9</text><text x="21.42" y="0.00" font-size="10.90" textLength="5.03" lengthAdjust="spacingAndGlyphs">5</text></g>
<g font-weight="bold" fill="#111" stroke="#111" stroke-width="0" transform="translate(241.3,566.6)"><text x="-0.37" y="0.00" font-size="12.35" textLength="5.89" lengthAdjust="spacingAndGlyphs">2</text><text x="8.21" y="0.00" font-size="12.35" textLength="3.66" lengthAdjust="spacingAndGlyphs">1</text><text x="14.80" y="0.00" font-size="12.35" textLength="3.66" lengthAdjust="spacingAndGlyphs">1</text><text x="21.38" y="0.00" font-size="12.35" textLength="5.96" lengthAdjust="spacingAndGlyphs">0</text></g>
<g font-weight="bold" fill="#111" stroke="#111" stroke-width="0" transform="translate(345.6,566)"><text x="-0.41" y="0.00" font-size="12.35" textLength="3.66" lengthAdjust="spacingAndGlyphs">1</text><text x="4.94" y="0.00" font-size="12.35" textLength="3.66" lengthAdjust="spacingAndGlyphs">1</text><text x="10.34" y="0.00" font-size="12.35" textLength="5.86" lengthAdjust="spacingAndGlyphs">9</text><text x="17.68" y="0.00" font-size="12.35" textLength="5.96" lengthAdjust="spacingAndGlyphs">0</text></g>
<line x1="274.6" y1="530" x2="274.6" y2="552" stroke="#111" stroke-width="1.0"/>
<line x1="314.5" y1="530" x2="314.5" y2="572" stroke="#111" stroke-width="1.0"/>
<line x1="389.2" y1="522" x2="389.2" y2="572" stroke="#111" stroke-width="1.0"/>
<line x1="271" y1="550.1" x2="318" y2="550.1" stroke="#111" stroke-width="1.0"/>
<line x1="272.70000000000005" y1="552.0" x2="276.5" y2="548.2" stroke="#111" stroke-width="1.25"/>
<line x1="312.6" y1="552.0" x2="316.4" y2="548.2" stroke="#111" stroke-width="1.25"/>
<g font-weight="bold" fill="#111" stroke="#111" stroke-width="0" transform="translate(284.6,548)"><text x="-0.44" y="0.00" font-size="11.63" textLength="5.69" lengthAdjust="spacingAndGlyphs">7</text><text x="7.70" y="0.00" font-size="11.63" textLength="5.54" lengthAdjust="spacingAndGlyphs">2</text><text x="15.70" y="0.00" font-size="11.63" textLength="5.61" lengthAdjust="spacingAndGlyphs">0</text></g>
<line x1="368" y1="530" x2="368" y2="543" stroke="#111" stroke-width="0.8"/>
<line x1="365" y1="541.3" x2="407" y2="541.3" stroke="#111" stroke-width="1.0"/>
<line x1="365.5" y1="543.8" x2="370.5" y2="538.8" stroke="#111" stroke-width="1.25"/>
<line x1="380.5" y1="543.8" x2="385.5" y2="538.8" stroke="#111" stroke-width="1.25"/>
<line x1="386.5" y1="543.8" x2="391.5" y2="538.8" stroke="#111" stroke-width="1.25"/>
<g font-weight="bold" fill="#111" stroke="#111" stroke-width="0" transform="translate(370.3,539.1)"><text x="-0.33" y="0.00" font-size="9.74" textLength="2.88" lengthAdjust="spacingAndGlyphs">1</text><text x="3.98" y="0.00" font-size="9.74" textLength="4.63" lengthAdjust="spacingAndGlyphs">6</text><text x="9.93" y="0.00" font-size="9.74" textLength="4.49" lengthAdjust="spacingAndGlyphs">5</text></g>
<g font-weight="bold" fill="#111" stroke="#111" stroke-width="0" transform="translate(393.4,539.1)"><text x="-0.29" y="0.00" font-size="9.74" textLength="4.62" lengthAdjust="spacingAndGlyphs">9</text><text x="6.15" y="0.00" font-size="9.74" textLength="4.70" lengthAdjust="spacingAndGlyphs">0</text></g>
<line x1="390" y1="509.5" x2="410" y2="509.5" stroke="#111" stroke-width="1.0"/>
<line x1="390" y1="513.7" x2="410" y2="513.7" stroke="#111" stroke-width="1.0"/>
<line x1="404.6" y1="505" x2="404.6" y2="524" stroke="#111" stroke-width="1.0"/>
<line x1="402.1" y1="512.0" x2="407.1" y2="507.0" stroke="#111" stroke-width="1.25"/>
<line x1="402.1" y1="516.2" x2="407.1" y2="511.20000000000005" stroke="#111" stroke-width="1.25"/>
<g font-weight="bold" fill="#111" stroke="#111" stroke-width="0" transform="translate(401.9,524.9) rotate(-90)"><text x="-0.11" y="0.00" font-size="9.45" textLength="4.05" lengthAdjust="spacingAndGlyphs">4</text><text x="6.28" y="0.00" font-size="9.45" textLength="4.56" lengthAdjust="spacingAndGlyphs">0</text></g>
<g font-weight="bold" fill="#111" stroke="#111" stroke-width="0" transform="translate(0,274.1)"><g transform="translate(515,0)"><text x="-0.45" y="0.00" font-size="15.84" textLength="7.28" lengthAdjust="spacingAndGlyphs">2</text></g><g transform="translate(528.4,0)"><text x="-0.46" y="0.00" font-size="15.84" textLength="3.93" lengthAdjust="spacingAndGlyphs">-</text></g><g transform="translate(536.6,0)"><text x="-0.48" y="0.00" font-size="15.84" textLength="7.74" lengthAdjust="spacingAndGlyphs">2</text></g></g>
<line x1="504.9" y1="278.6" x2="549.7" y2="278.6" stroke="#111" stroke-width="2.5"/>
<circle cx="480.6" cy="289.4" r="16.6" fill="none" stroke="#111" stroke-width="1.2"/>
<line x1="464.0" y1="289.4" x2="497.20000000000005" y2="289.4" stroke="#111" stroke-width="1.1"/>
<g font-weight="bold" fill="#111" stroke="#111" stroke-width="0" transform="translate(476.5,287)"><text x="-0.34" y="0.00" font-size="11.34" textLength="5.41" lengthAdjust="spacingAndGlyphs">2</text><text x="6.63" y="0.00" font-size="11.34" textLength="5.47" lengthAdjust="spacingAndGlyphs">0</text></g>
<g font-weight="bold" fill="#111" stroke="#111" stroke-width="0" transform="translate(477.4,301.6)"><text x="-0.35" y="0.00" font-size="11.92" textLength="5.68" lengthAdjust="spacingAndGlyphs">2</text><text x="6.05" y="0.00" font-size="11.92" textLength="5.50" lengthAdjust="spacingAndGlyphs">3</text></g>
<line x1="497.2" y1="289.4" x2="512.9" y2="314.1" stroke="#111" stroke-width="1.0"/>
<polyline points="512.5,447.4 512.9,299.5 539.3,299.5 539.3,319.7 520.2,319.7" fill="none" stroke="#111" stroke-width="1.5" stroke-linejoin="miter"/>
<line x1="512.9" y1="323.1" x2="520.2" y2="323.1" stroke="#111" stroke-width="1.3"/>
<line x1="520.2" y1="319.7" x2="519.8" y2="445.4" stroke="#111" stroke-width="1.3"/>
<line x1="538.6" y1="319.7" x2="538.4" y2="451.6" stroke="#333" stroke-width="1.1"/>
<rect x="518" y="302" width="20" height="13.199999999999989" fill="none" stroke="#111" stroke-width="1.8"/>
<rect x="520.5" y="304" width="14.5" height="9.5" fill="none" stroke="#111" stroke-width="1.0"/>
<line x1="515.2" y1="305" x2="515.2" y2="323" stroke="#111" stroke-width="1.2"/>
<polyline points="512.5,447.4 519.8,445.4 519.8,449 534,451.6 538.4,451.6" fill="none" stroke="#111" stroke-width="1.4" stroke-linejoin="miter"/>
<polyline points="512.5,447.4 512.5,451.1 515.4,451.1 515.4,457.5 538.4,457.5 538.4,449" fill="none" stroke="#111" stroke-width="1.5" stroke-linejoin="miter"/>
<line x1="518" y1="455.6" x2="536" y2="455.6" stroke="#111" stroke-width="2.6"/>
<line x1="524.1" y1="315.2" x2="561.2" y2="334.8" stroke="#111" stroke-width="1.0"/>
<line x1="561.2" y1="334" x2="561.2" y2="430.9" stroke="#111" stroke-width="1.0"/>
<line x1="561.2" y1="430.9" x2="537.9" y2="449" stroke="#111" stroke-width="1.0"/>
<g font-weight="bold" fill="#111" stroke="#111" stroke-width="0" transform="translate(556.1,425.7) rotate(-90)"><text x="-0.18" y="0.00" font-size="11.63" textLength="5.17" lengthAdjust="spacingAndGlyphs">А</text><text x="6.48" y="0.00" font-size="11.63" textLength="5.60" lengthAdjust="spacingAndGlyphs">Б</text><text x="13.32" y="0.00" font-size="11.63" textLength="7.27" lengthAdjust="spacingAndGlyphs">Н</text><text x="22.02" y="0.00" font-size="11.63" textLength="4.98" lengthAdjust="spacingAndGlyphs">Т</text><text x="28.72" y="0.00" font-size="11.63" textLength="3.44" lengthAdjust="spacingAndGlyphs">1</text><text x="33.67" y="0.00" font-size="11.63" textLength="4.41" lengthAdjust="spacingAndGlyphs">-</text><text x="39.61" y="0.00" font-size="11.63" textLength="4.98" lengthAdjust="spacingAndGlyphs">4</text><text x="46.31" y="0.00" font-size="11.63" textLength="5.69" lengthAdjust="spacingAndGlyphs">7</text><text x="53.23" y="0.00" font-size="11.63" textLength="4.41" lengthAdjust="spacingAndGlyphs">-</text><text x="58.96" y="0.00" font-size="11.63" textLength="5.54" lengthAdjust="spacingAndGlyphs">2</text><text x="65.89" y="0.00" font-size="11.63" textLength="5.57" lengthAdjust="spacingAndGlyphs">б</text></g>
<line x1="544.3" y1="299.5" x2="578" y2="299.5" stroke="#111" stroke-width="1.0"/>
<line x1="544.3" y1="320.3" x2="578" y2="320.3" stroke="#111" stroke-width="1.0"/>
<line x1="573.3" y1="296" x2="573.3" y2="459" stroke="#111" stroke-width="1.0"/>
<line x1="571.0999999999999" y1="301.7" x2="575.5" y2="297.3" stroke="#111" stroke-width="1.25"/>
<line x1="571.0999999999999" y1="322.5" x2="575.5" y2="318.1" stroke="#111" stroke-width="1.25"/>
<line x1="571.0999999999999" y1="451.5" x2="575.5" y2="447.1" stroke="#111" stroke-width="1.25"/>
<line x1="571.0999999999999" y1="459.7" x2="575.5" y2="455.3" stroke="#111" stroke-width="1.25"/>
<g font-weight="bold" fill="#111" stroke="#111" stroke-width="0" transform="translate(570.8,317.5) rotate(-90)"><text x="-0.19" y="0.00" font-size="10.17" textLength="4.70" lengthAdjust="spacingAndGlyphs">3</text><text x="6.00" y="0.00" font-size="10.17" textLength="3.01" lengthAdjust="spacingAndGlyphs">1</text><text x="10.74" y="0.00" font-size="10.17" textLength="4.69" lengthAdjust="spacingAndGlyphs">5</text></g>
<g font-weight="bold" fill="#111" stroke="#111" stroke-width="0" transform="translate(571.5,392) rotate(-90)"><text x="-0.32" y="0.00" font-size="10.90" textLength="5.20" lengthAdjust="spacingAndGlyphs">2</text><text x="6.78" y="0.00" font-size="10.90" textLength="5.20" lengthAdjust="spacingAndGlyphs">2</text><text x="13.88" y="0.00" font-size="10.90" textLength="5.20" lengthAdjust="spacingAndGlyphs">2</text><text x="20.93" y="0.00" font-size="10.90" textLength="5.26" lengthAdjust="spacingAndGlyphs">0</text></g>
<g font-weight="bold" fill="#111" stroke="#111" stroke-width="0" transform="translate(570.1,443.7) rotate(-90)"><text x="-0.34" y="0.00" font-size="10.17" textLength="3.01" lengthAdjust="spacingAndGlyphs">1</text><text x="4.61" y="0.00" font-size="10.17" textLength="3.01" lengthAdjust="spacingAndGlyphs">1</text><text x="9.64" y="0.00" font-size="10.17" textLength="4.69" lengthAdjust="spacingAndGlyphs">5</text></g>
<line x1="538" y1="449.3" x2="576" y2="449.3" stroke="#111" stroke-width="1.0"/>
<line x1="540" y1="454.3" x2="562" y2="454.3" stroke="#111" stroke-width="0.9"/>
<polygon points="562,454.3 557.0,455.8 557.0,452.8" fill="#111"/>
<line x1="540" y1="458" x2="576" y2="458" stroke="#111" stroke-width="1.0"/>
<line x1="559" y1="449" x2="559" y2="475" stroke="#444" stroke-width="0.8"/>
<line x1="556.8" y1="460.2" x2="561.2" y2="455.8" stroke="#111" stroke-width="1.25"/>
<g font-weight="bold" fill="#111" stroke="#111" stroke-width="0" transform="translate(555.8,471) rotate(-90)"><text x="-0.30" y="0.00" font-size="10.17" textLength="4.83" lengthAdjust="spacingAndGlyphs">2</text><text x="4.76" y="0.00" font-size="10.17" textLength="4.67" lengthAdjust="spacingAndGlyphs">5</text></g>
<line x1="512.4" y1="461" x2="512.4" y2="487" stroke="#111" stroke-width="1.0"/>
<line x1="538" y1="461" x2="538" y2="487" stroke="#111" stroke-width="1.0"/>
<line x1="510" y1="483.5" x2="541" y2="483.5" stroke="#111" stroke-width="1.0"/>
<line x1="510.5" y1="485.4" x2="514.3" y2="481.6" stroke="#111" stroke-width="1.25"/>
<line x1="536.1" y1="485.4" x2="539.9" y2="481.6" stroke="#111" stroke-width="1.25"/>
<g font-weight="bold" fill="#111" stroke="#111" stroke-width="0" transform="translate(516.2,479.2)"><text x="-0.21" y="0.00" font-size="10.90" textLength="5.03" lengthAdjust="spacingAndGlyphs">3</text><text x="6.38" y="0.00" font-size="10.90" textLength="5.26" lengthAdjust="spacingAndGlyphs">0</text><text x="13.13" y="0.00" font-size="10.90" textLength="5.26" lengthAdjust="spacingAndGlyphs">0</text></g>
<circle cx="481.3" cy="459.4" r="16.8" fill="none" stroke="#111" stroke-width="1.2"/>
<line x1="464.5" y1="459.4" x2="498.1" y2="459.4" stroke="#111" stroke-width="1.1"/>
<g font-weight="bold" fill="#111" stroke="#111" stroke-width="0" transform="translate(473.5,456.6)"><text x="-0.39" y="0.00" font-size="13.81" textLength="6.25" lengthAdjust="spacingAndGlyphs">2</text><text x="6.39" y="0.00" font-size="13.81" textLength="5.61" lengthAdjust="spacingAndGlyphs">4</text><text x="12.63" y="0.00" font-size="13.81" textLength="6.27" lengthAdjust="spacingAndGlyphs">б</text></g>
<g font-weight="bold" fill="#111" stroke="#111" stroke-width="0" transform="translate(476.5,470.3)"><text x="-0.39" y="0.00" font-size="13.08" textLength="6.24" lengthAdjust="spacingAndGlyphs">2</text><text x="9.05" y="0.00" font-size="13.08" textLength="6.04" lengthAdjust="spacingAndGlyphs">3</text></g>
<line x1="498.1" y1="459.4" x2="512.5" y2="450" stroke="#111" stroke-width="1.0"/>
</svg></body></html>
